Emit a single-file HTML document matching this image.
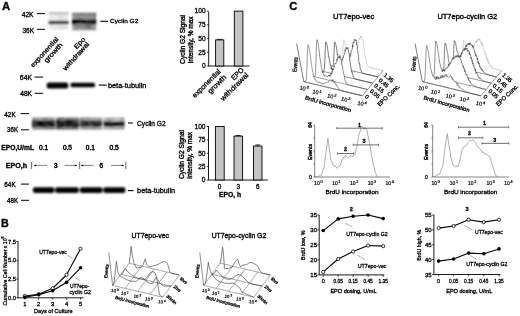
<!DOCTYPE html>
<html><head><meta charset="utf-8"><style>
html,body{margin:0;padding:0;background:#fff;}
svg{display:block;will-change:transform;}
text{font-family:"Liberation Sans",sans-serif;stroke:#000;stroke-width:0.3px;}
</style></head><body>
<svg width="520" height="316" viewBox="0 0 520 316">
<defs>
<filter id="b1" x="-20%" y="-50%" width="140%" height="200%"><feGaussianBlur stdDeviation="0.9"/></filter>
<filter id="b2" x="-20%" y="-50%" width="140%" height="200%"><feGaussianBlur stdDeviation="0.3"/></filter>
<filter id="mot2" x="0" y="0" width="100%" height="100%"><feTurbulence type="fractalNoise" baseFrequency="0.18 0.35" numOctaves="2" seed="11" result="t"/><feColorMatrix in="t" type="matrix" values="0 0 0 0 1  0 0 0 0 1  0 0 0 0 1  2.4 0 0 0 -0.95" result="a"/><feGaussianBlur in="a" stdDeviation="0.9" result="ab"/><feComposite in="ab" in2="SourceGraphic" operator="in"/></filter>
<filter id="mot" x="0" y="0" width="100%" height="100%"><feTurbulence type="fractalNoise" baseFrequency="0.14 0.3" numOctaves="2" seed="3" result="t"/><feColorMatrix in="t" type="matrix" values="0 0 0 0 0  0 0 0 0 0  0 0 0 0 0  2.4 0 0 0 -0.95" result="a"/><feGaussianBlur in="a" stdDeviation="0.9" result="ab"/><feComposite in="ab" in2="SourceGraphic" operator="in"/></filter>
</defs>
<rect width="520" height="316" fill="#fff"/>
<text x="1.90" y="9.54" font-size="11.5" font-weight="bold" textLength="8.20" lengthAdjust="spacingAndGlyphs" fill="#000" >A</text>
<text x="21.70" y="16.80" font-size="6.4" font-weight="normal" textLength="11.90" lengthAdjust="spacingAndGlyphs" fill="#000" >42K</text>
<text x="22.40" y="32.50" font-size="6.4" font-weight="normal" textLength="11.60" lengthAdjust="spacingAndGlyphs" fill="#000" >36K</text>
<line x1="36.90" y1="13.60" x2="45.00" y2="13.60" stroke="#000" stroke-width="1.0" />
<line x1="36.90" y1="29.30" x2="45.00" y2="29.30" stroke="#000" stroke-width="1.0" />
<line x1="100.30" y1="21.30" x2="108.00" y2="21.30" stroke="#000" stroke-width="1.1" />
<text x="110.00" y="23.43" font-size="6.2" font-weight="normal" textLength="28.30" lengthAdjust="spacingAndGlyphs" fill="#000" >Cyclin G2</text>
<g filter="url(#b1)">
<rect x="48.70" y="12.50" width="19.80" height="17.50" fill="#efefef" />
<rect x="48.70" y="12.40" width="19.80" height="1.80" fill="#aaaaaa" />
<rect x="48.70" y="20.90" width="19.80" height="3.20" fill="#000" />
<rect x="72.00" y="12.50" width="24.20" height="18.00" fill="#a8a8a8" />
<rect x="72.00" y="13.00" width="24.20" height="3.00" fill="#8a8a8a" />
<rect x="72.00" y="19.00" width="24.20" height="5.40" fill="#000" />
<rect x="76.00" y="24.00" width="14.00" height="4.00" fill="#888" />
</g>
<rect x="72.50" y="13.00" width="23.50" height="17.00" fill="#000" filter="url(#mot)" opacity="0.35"/>
<rect x="72.50" y="18.50" width="23.50" height="7.00" fill="#fff" filter="url(#mot2)" opacity="0.25"/>
<rect x="49.00" y="13.00" width="19.00" height="16.50" fill="#000" filter="url(#mot)" opacity="0.12"/>
<text transform="translate(58.80,39.50) rotate(-48)" x="0" y="0" font-size="6.6" font-weight="normal" text-anchor="end" textLength="38.00" lengthAdjust="spacingAndGlyphs">exponential</text>
<text transform="translate(62.90,45.20) rotate(-48)" x="0" y="0" font-size="6.6" font-weight="normal" text-anchor="end" textLength="24.00" lengthAdjust="spacingAndGlyphs">growth</text>
<text transform="translate(85.80,39.50) rotate(-48)" x="0" y="0" font-size="6.6" font-weight="normal" text-anchor="end" textLength="13.60" lengthAdjust="spacingAndGlyphs">Epo</text>
<text transform="translate(89.60,44.50) rotate(-48)" x="0" y="0" font-size="6.6" font-weight="normal" text-anchor="end" textLength="35.50" lengthAdjust="spacingAndGlyphs">withdrawal</text>
<text x="19.80" y="80.40" font-size="6.4" font-weight="normal" textLength="12.30" lengthAdjust="spacingAndGlyphs" fill="#000" >64K</text>
<text x="20.20" y="96.40" font-size="6.4" font-weight="normal" textLength="11.90" lengthAdjust="spacingAndGlyphs" fill="#000" >48K</text>
<line x1="34.50" y1="77.10" x2="43.10" y2="77.10" stroke="#000" stroke-width="1.0" />
<line x1="34.50" y1="93.30" x2="43.10" y2="93.30" stroke="#000" stroke-width="1.0" />
<g filter="url(#b1)">
<rect x="46.70" y="82.60" width="21.50" height="6.00" fill="#000" rx="2.2"/>
<rect x="70.40" y="82.80" width="24.70" height="4.50" fill="#000" rx="2"/>
</g>
<line x1="98.70" y1="85.10" x2="106.70" y2="85.10" stroke="#000" stroke-width="1.1" />
<text x="107.90" y="87.52" font-size="7.0" font-weight="normal" textLength="38.60" lengthAdjust="spacingAndGlyphs" fill="#000" >beta-tubulin</text>
<text x="4.30" y="116.90" font-size="6.4" font-weight="normal" textLength="11.40" lengthAdjust="spacingAndGlyphs" fill="#000" >42K</text>
<text x="7.10" y="132.10" font-size="6.4" font-weight="normal" textLength="11.00" lengthAdjust="spacingAndGlyphs" fill="#000" >36K</text>
<line x1="20.50" y1="113.60" x2="29.00" y2="113.60" stroke="#000" stroke-width="1.0" />
<line x1="21.00" y1="129.80" x2="29.00" y2="129.80" stroke="#000" stroke-width="1.0" />
<g filter="url(#b1)">
<rect x="32.20" y="117.30" width="22.80" height="12.60" fill="#a4a4a4" />
<rect x="56.10" y="117.30" width="22.60" height="12.60" fill="#9a9a9a" />
<rect x="79.80" y="117.30" width="22.20" height="12.60" fill="#b0b0b0" />
<rect x="103.50" y="117.30" width="20.90" height="12.60" fill="#c0c0c0" />
<rect x="32.20" y="120.00" width="22.80" height="7.40" fill="#111" />
<rect x="56.10" y="119.50" width="22.60" height="8.60" fill="#0a0a0a" />
<rect x="79.80" y="120.60" width="22.20" height="6.40" fill="#1a1a1a" />
<rect x="103.50" y="121.10" width="20.90" height="5.80" fill="#151515" />
</g>
<rect x="32.50" y="117.50" width="92.00" height="12.00" fill="#000" filter="url(#mot)" opacity="0.3"/>
<rect x="32.50" y="118.50" width="92.00" height="10.00" fill="#fff" filter="url(#mot2)" opacity="0.35"/>
<line x1="128.10" y1="123.00" x2="132.70" y2="123.00" stroke="#000" stroke-width="1.1" />
<text x="137.10" y="125.78" font-size="6.6" font-weight="normal" textLength="28.50" lengthAdjust="spacingAndGlyphs" fill="#000" >Cyclin G2</text>
<text x="1.30" y="150.00" font-size="6.4" font-weight="bold" textLength="32.70" lengthAdjust="spacingAndGlyphs" fill="#000" >EPO,U/mL</text>
<text x="39.10" y="150.00" font-size="6.4" font-weight="normal" textLength="9.20" lengthAdjust="spacingAndGlyphs" fill="#000" style="stroke-width:0.45px">0.1</text>
<text x="62.90" y="150.00" font-size="6.4" font-weight="normal" textLength="9.10" lengthAdjust="spacingAndGlyphs" fill="#000" style="stroke-width:0.45px">0.5</text>
<text x="85.80" y="150.00" font-size="6.4" font-weight="normal" textLength="9.10" lengthAdjust="spacingAndGlyphs" fill="#000" style="stroke-width:0.45px">0.1</text>
<text x="109.50" y="150.00" font-size="6.4" font-weight="normal" textLength="9.20" lengthAdjust="spacingAndGlyphs" fill="#000" style="stroke-width:0.45px">0.5</text>
<text x="5.80" y="168.20" font-size="6.4" font-weight="bold" textLength="21.30" lengthAdjust="spacingAndGlyphs" fill="#000" >EPO,h</text>
<line x1="31.60" y1="161.80" x2="31.60" y2="169.00" stroke="#000" stroke-width="0.6" />
<line x1="79.70" y1="161.80" x2="79.70" y2="169.00" stroke="#000" stroke-width="0.6" />
<line x1="125.80" y1="161.80" x2="125.80" y2="169.00" stroke="#000" stroke-width="0.6" />
<line x1="34.00" y1="165.40" x2="47.00" y2="165.40" stroke="#000" stroke-width="0.5" />
<polygon points="34.00,165.40 36.20,164.40 36.20,166.40" fill="#000"/>
<line x1="64.50" y1="165.40" x2="77.00" y2="165.40" stroke="#000" stroke-width="0.5" />
<polygon points="77.00,165.40 74.80,164.40 74.80,166.40" fill="#000"/>
<line x1="81.00" y1="165.40" x2="93.70" y2="165.40" stroke="#000" stroke-width="0.5" />
<polygon points="81.00,165.40 83.20,164.40 83.20,166.40" fill="#000"/>
<line x1="111.00" y1="165.40" x2="124.00" y2="165.40" stroke="#000" stroke-width="0.5" />
<polygon points="124.00,165.40 121.80,164.40 121.80,166.40" fill="#000"/>
<text x="55.70" y="168.20" font-size="6.4" font-weight="normal" text-anchor="middle" style="stroke-width:0.45px">3</text>
<text x="101.20" y="168.20" font-size="6.4" font-weight="normal" text-anchor="middle" style="stroke-width:0.45px">6</text>
<text x="4.30" y="186.90" font-size="6.4" font-weight="normal" textLength="11.40" lengthAdjust="spacingAndGlyphs" fill="#000" >64K</text>
<text x="7.10" y="202.80" font-size="6.4" font-weight="normal" textLength="11.00" lengthAdjust="spacingAndGlyphs" fill="#000" >48K</text>
<line x1="21.00" y1="184.10" x2="29.00" y2="184.10" stroke="#000" stroke-width="1.0" />
<line x1="21.00" y1="200.30" x2="29.00" y2="200.30" stroke="#000" stroke-width="1.0" />
<g filter="url(#b1)">
<rect x="32.90" y="187.20" width="21.50" height="5.80" fill="#000" rx="2"/>
<rect x="55.20" y="187.20" width="23.60" height="5.80" fill="#000" rx="2"/>
<rect x="79.90" y="187.20" width="22.60" height="5.80" fill="#000" rx="2"/>
<rect x="103.30" y="187.20" width="22.10" height="5.80" fill="#000" rx="2"/>
</g>
<line x1="127.80" y1="190.60" x2="133.60" y2="190.60" stroke="#000" stroke-width="1.1" />
<text x="137.10" y="192.62" font-size="7.0" font-weight="normal" textLength="38.00" lengthAdjust="spacingAndGlyphs" fill="#000" >beta-tubulin</text>
<line x1="208.70" y1="11.80" x2="208.70" y2="66.00" stroke="#000" stroke-width="0.9" />
<line x1="208.30" y1="66.00" x2="249.60" y2="66.00" stroke="#000" stroke-width="0.9" />
<line x1="207.00" y1="66.00" x2="208.70" y2="66.00" stroke="#000" stroke-width="0.8" />
<text x="205.60" y="68.38" font-size="6.6" font-weight="normal" text-anchor="end" >0</text>
<line x1="207.00" y1="52.27" x2="208.70" y2="52.27" stroke="#000" stroke-width="0.8" />
<text x="205.60" y="54.65" font-size="6.6" font-weight="normal" text-anchor="end" >25</text>
<line x1="207.00" y1="38.55" x2="208.70" y2="38.55" stroke="#000" stroke-width="0.8" />
<text x="205.60" y="40.93" font-size="6.6" font-weight="normal" text-anchor="end" >50</text>
<line x1="207.00" y1="24.82" x2="208.70" y2="24.82" stroke="#000" stroke-width="0.8" />
<text x="205.60" y="27.20" font-size="6.6" font-weight="normal" text-anchor="end" >75</text>
<line x1="207.00" y1="11.10" x2="208.70" y2="11.10" stroke="#000" stroke-width="0.8" />
<text x="205.60" y="13.48" font-size="6.6" font-weight="normal" text-anchor="end" >100</text>
<rect x="215.60" y="39.92" width="8.20" height="26.08" fill="#c4c4c4" stroke="#000" stroke-width="0.9"/>
<rect x="234.30" y="11.10" width="8.60" height="54.90" fill="#c4c4c4" stroke="#000" stroke-width="0.9"/>
<line x1="216.80" y1="39.37" x2="222.60" y2="39.37" stroke="#000" stroke-width="0.8" />
<text transform="translate(185.2,39.4) rotate(-90)" text-anchor="middle" font-size="7.0" textLength="49" lengthAdjust="spacingAndGlyphs" style="stroke-width:0.38px">Cyclin G2 Signal</text>
<text transform="translate(193.2,40.0) rotate(-90)" text-anchor="middle" font-size="7.0" textLength="47" lengthAdjust="spacingAndGlyphs" style="stroke-width:0.38px">Intensity, % max</text>
<text transform="translate(221.20,72.00) rotate(-45)" x="0" y="0" font-size="7.2" font-weight="normal" text-anchor="end" textLength="37.00" lengthAdjust="spacingAndGlyphs">exponential</text>
<text transform="translate(226.90,77.60) rotate(-45)" x="0" y="0" font-size="7.2" font-weight="normal" text-anchor="end" textLength="23.20" lengthAdjust="spacingAndGlyphs">growth</text>
<text transform="translate(244.20,70.50) rotate(-45)" x="0" y="0" font-size="7.2" font-weight="normal" text-anchor="end" textLength="14.50" lengthAdjust="spacingAndGlyphs">EPO</text>
<text transform="translate(249.00,75.50) rotate(-45)" x="0" y="0" font-size="7.2" font-weight="normal" text-anchor="end" textLength="36.50" lengthAdjust="spacingAndGlyphs">withdrawal</text>
<line x1="208.50" y1="126.00" x2="208.50" y2="179.80" stroke="#000" stroke-width="0.9" />
<line x1="208.10" y1="180.00" x2="267.80" y2="180.00" stroke="#000" stroke-width="0.9" />
<line x1="206.80" y1="180.00" x2="208.50" y2="180.00" stroke="#000" stroke-width="0.8" />
<text x="205.50" y="182.38" font-size="6.6" font-weight="normal" text-anchor="end" >0</text>
<line x1="206.80" y1="166.62" x2="208.50" y2="166.62" stroke="#000" stroke-width="0.8" />
<text x="205.50" y="169.00" font-size="6.6" font-weight="normal" text-anchor="end" >25</text>
<line x1="206.80" y1="153.25" x2="208.50" y2="153.25" stroke="#000" stroke-width="0.8" />
<text x="205.50" y="155.63" font-size="6.6" font-weight="normal" text-anchor="end" >50</text>
<line x1="206.80" y1="139.88" x2="208.50" y2="139.88" stroke="#000" stroke-width="0.8" />
<text x="205.50" y="142.25" font-size="6.6" font-weight="normal" text-anchor="end" >75</text>
<line x1="206.80" y1="126.50" x2="208.50" y2="126.50" stroke="#000" stroke-width="0.8" />
<text x="205.50" y="128.88" font-size="6.6" font-weight="normal" text-anchor="end" >100</text>
<rect x="215.40" y="126.50" width="8.80" height="53.50" fill="#c4c4c4" stroke="#000" stroke-width="0.9"/>
<rect x="234.00" y="136.13" width="8.60" height="43.87" fill="#c4c4c4" stroke="#000" stroke-width="0.9"/>
<rect x="253.50" y="146.03" width="8.50" height="33.97" fill="#c4c4c4" stroke="#000" stroke-width="0.9"/>
<line x1="235.50" y1="135.49" x2="240.80" y2="135.49" stroke="#000" stroke-width="0.8" />
<line x1="238.10" y1="135.49" x2="238.10" y2="136.13" stroke="#000" stroke-width="0.8" />
<line x1="255.30" y1="144.96" x2="260.30" y2="144.96" stroke="#000" stroke-width="0.8" />
<line x1="257.80" y1="144.96" x2="257.80" y2="146.03" stroke="#000" stroke-width="0.8" />
<text x="219.60" y="188.90" font-size="6.4" font-weight="normal" text-anchor="middle" >0</text>
<text x="238.30" y="188.90" font-size="6.4" font-weight="normal" text-anchor="middle" >3</text>
<text x="257.70" y="188.90" font-size="6.4" font-weight="normal" text-anchor="middle" >6</text>
<text x="218.90" y="197.20" font-size="6.4" font-weight="bold" textLength="22.20" lengthAdjust="spacingAndGlyphs" fill="#000" >EPO, h</text>
<text transform="translate(184.0,154.6) rotate(-90)" text-anchor="middle" font-size="7.0" textLength="49" lengthAdjust="spacingAndGlyphs" style="stroke-width:0.38px">Cyclin G2 Signal</text>
<text transform="translate(192.4,155.4) rotate(-90)" text-anchor="middle" font-size="7.0" textLength="47" lengthAdjust="spacingAndGlyphs" style="stroke-width:0.38px">Intensity, % max</text>
<text x="1.10" y="226.94" font-size="11.5" font-weight="bold" textLength="7.80" lengthAdjust="spacingAndGlyphs" fill="#000" >B</text>
<line x1="18.00" y1="241.30" x2="18.00" y2="297.80" stroke="#000" stroke-width="0.9" />
<line x1="17.60" y1="297.80" x2="83.50" y2="297.80" stroke="#000" stroke-width="0.9" />
<line x1="16.40" y1="297.80" x2="18.20" y2="297.80" stroke="#000" stroke-width="0.8" />
<text x="16.00" y="299.89" font-size="5.8" font-weight="normal" text-anchor="end" >0.0</text>
<line x1="16.40" y1="279.03" x2="18.20" y2="279.03" stroke="#000" stroke-width="0.8" />
<text x="16.00" y="281.12" font-size="5.8" font-weight="normal" text-anchor="end" >2.5</text>
<line x1="16.40" y1="260.27" x2="18.20" y2="260.27" stroke="#000" stroke-width="0.8" />
<text x="16.00" y="262.35" font-size="5.8" font-weight="normal" text-anchor="end" >5.0</text>
<line x1="16.40" y1="241.50" x2="18.20" y2="241.50" stroke="#000" stroke-width="0.8" />
<text x="16.00" y="243.59" font-size="5.8" font-weight="normal" text-anchor="end" >7.5</text>
<line x1="24.80" y1="297.80" x2="24.80" y2="299.50" stroke="#000" stroke-width="0.8" />
<text x="24.80" y="305.79" font-size="5.8" font-weight="normal" text-anchor="middle" >1</text>
<line x1="38.73" y1="297.80" x2="38.73" y2="299.50" stroke="#000" stroke-width="0.8" />
<text x="38.73" y="305.79" font-size="5.8" font-weight="normal" text-anchor="middle" >2</text>
<line x1="52.66" y1="297.80" x2="52.66" y2="299.50" stroke="#000" stroke-width="0.8" />
<text x="52.66" y="305.79" font-size="5.8" font-weight="normal" text-anchor="middle" >3</text>
<line x1="66.59" y1="297.80" x2="66.59" y2="299.50" stroke="#000" stroke-width="0.8" />
<text x="66.59" y="305.79" font-size="5.8" font-weight="normal" text-anchor="middle" >4</text>
<line x1="80.52" y1="297.80" x2="80.52" y2="299.50" stroke="#000" stroke-width="0.8" />
<text x="80.52" y="305.79" font-size="5.8" font-weight="normal" text-anchor="middle" >5</text>
<text x="34.10" y="313.16" font-size="6.0" font-weight="normal" textLength="38.40" lengthAdjust="spacingAndGlyphs" fill="#000" >Days of Culture</text>
<text transform="translate(6.6,270.9) rotate(-90)" text-anchor="middle" font-size="6.0" textLength="69" lengthAdjust="spacingAndGlyphs">Cumulative Cell Number x 10<tspan dy="-2.2" font-size="4.2">6</tspan></text>
<polyline points="24.80,296.00 38.73,294.20 52.66,288.27 66.59,274.75 80.52,248.71" fill="none" stroke="#000" stroke-width="1.1" stroke-linejoin="round" />
<polyline points="24.80,297.27 38.73,294.65 52.66,290.82 66.59,282.34 80.52,267.77" fill="none" stroke="#000" stroke-width="1.1" stroke-linejoin="round" />
<circle cx="24.80" cy="296.00" r="1.6" fill="#fff" stroke="#000" stroke-width="0.8"/>
<circle cx="38.73" cy="294.20" r="1.6" fill="#fff" stroke="#000" stroke-width="0.8"/>
<circle cx="52.66" cy="288.27" r="1.6" fill="#fff" stroke="#000" stroke-width="0.8"/>
<circle cx="66.59" cy="274.75" r="1.6" fill="#fff" stroke="#000" stroke-width="0.8"/>
<circle cx="80.52" cy="248.71" r="1.6" fill="#fff" stroke="#000" stroke-width="0.8"/>
<circle cx="24.80" cy="297.27" r="1.8" fill="#000"/>
<circle cx="38.73" cy="294.65" r="1.8" fill="#000"/>
<circle cx="52.66" cy="290.82" r="1.8" fill="#000"/>
<circle cx="66.59" cy="282.34" r="1.8" fill="#000"/>
<circle cx="80.52" cy="267.77" r="1.8" fill="#000"/>
<text x="39.20" y="254.19" font-size="5.8" font-weight="normal" textLength="27.70" lengthAdjust="spacingAndGlyphs" fill="#000" >UT7epo-vec</text>
<line x1="67.40" y1="255.00" x2="72.60" y2="258.40" stroke="#777" stroke-width="0.6" />
<text x="69.90" y="287.99" font-size="5.8" font-weight="normal" textLength="19.30" lengthAdjust="spacingAndGlyphs" fill="#000" >UT7epo-</text>
<text x="69.50" y="294.19" font-size="5.8" font-weight="normal" textLength="21.40" lengthAdjust="spacingAndGlyphs" fill="#000" >cyclin G2</text>
<line x1="75.20" y1="277.80" x2="80.20" y2="280.60" stroke="#777" stroke-width="0.6" />
<text x="131.50" y="237.59" font-size="7.2" font-weight="normal" textLength="37.50" lengthAdjust="spacingAndGlyphs" fill="#000" style="stroke-width:0.35px">UT7epo-vec</text>
<line x1="112.60" y1="285.40" x2="162.70" y2="297.20" stroke="#555" stroke-width="0.5" />
<line x1="120.90" y1="274.30" x2="171.00" y2="286.10" stroke="#555" stroke-width="0.5" />
<line x1="129.20" y1="263.20" x2="179.30" y2="275.00" stroke="#555" stroke-width="0.5" />
<line x1="112.60" y1="285.40" x2="129.20" y2="263.20" stroke="#555" stroke-width="0.5" />
<line x1="125.12" y1="288.35" x2="141.72" y2="266.15" stroke="#555" stroke-width="0.5" />
<line x1="137.65" y1="291.30" x2="154.25" y2="269.10" stroke="#555" stroke-width="0.5" />
<line x1="150.17" y1="294.25" x2="166.77" y2="272.05" stroke="#555" stroke-width="0.5" />
<line x1="162.70" y1="297.20" x2="179.30" y2="275.00" stroke="#555" stroke-width="0.5" />
<line x1="112.60" y1="285.40" x2="108.80" y2="252.40" stroke="#444" stroke-width="0.6" />
<text transform="translate(108.00,271.40) rotate(-84)" font-size="4.4" text-anchor="middle" textLength="14" lengthAdjust="spacingAndGlyphs">Events</text>
<polyline points="129.20,263.20 130.20,256.00 131.10,246.30 132.40,256.00 134.20,263.70 136.60,268.00 140.00,267.50 143.00,265.00 145.30,258.70 146.50,264.50 149.00,266.60 152.40,266.10 156.00,265.00 158.00,264.50 161.90,262.10 164.30,261.30 166.00,262.00 167.50,263.70 169.80,271.60 171.40,273.20 179.30,275.00" fill="none" stroke="#333" stroke-width="0.6" stroke-linejoin="round" />
<polyline points="120.90,274.30 122.50,273.50 124.00,270.50 125.50,268.50 127.00,271.00 130.00,273.80 134.00,276.50 138.00,278.30 141.00,279.00 145.00,279.50 148.00,276.00 150.50,272.50 153.00,271.50 155.00,273.00 157.00,278.50 159.00,282.00 163.00,286.00 171.00,286.10" fill="none" stroke="#333" stroke-width="0.6" stroke-linejoin="round" />
<polyline points="112.60,285.40 114.00,283.00 115.50,270.00 116.40,261.30 117.40,268.00 117.80,272.00 119.20,275.20 121.00,276.50 126.00,279.50 131.00,281.20 136.00,281.40 139.00,279.00 141.00,277.00 143.00,278.20 148.00,282.50 152.00,284.00 155.00,279.00 156.00,277.50 157.00,280.00 158.50,289.00 159.50,295.00 162.70,297.20" fill="none" stroke="#333" stroke-width="0.6" stroke-linejoin="round" />
<text transform="translate(111.00,291.80) rotate(8)" font-size="4.4" style="stroke-width:0.2px">10<tspan dx="0.66" dy="-1.85" font-size="3.30">0</tspan></text>
<text transform="translate(121.00,294.60) rotate(8)" font-size="4.4" style="stroke-width:0.2px">10<tspan dx="0.66" dy="-1.85" font-size="3.30">1</tspan></text>
<text transform="translate(133.40,297.40) rotate(8)" font-size="4.4" style="stroke-width:0.2px">10<tspan dx="0.66" dy="-1.85" font-size="3.30">2</tspan></text>
<text transform="translate(145.00,300.20) rotate(8)" font-size="4.4" style="stroke-width:0.2px">10<tspan dx="0.66" dy="-1.85" font-size="3.30">3</tspan></text>
<text transform="translate(158.00,303.00) rotate(8)" font-size="4.4" style="stroke-width:0.2px">10<tspan dx="0.66" dy="-1.85" font-size="3.30">4</tspan></text>
<text transform="translate(115.00,298.80) rotate(15)" font-size="4.4" textLength="35" lengthAdjust="spacingAndGlyphs">BrdU incorporation</text>
<text transform="translate(179.60,279.20) rotate(40)" font-size="4.4" textLength="8.0" lengthAdjust="spacingAndGlyphs">8hrs</text>
<text transform="translate(173.30,287.20) rotate(40)" font-size="4.4" textLength="8.0" lengthAdjust="spacingAndGlyphs">2hrs</text>
<text transform="translate(166.00,296.80) rotate(40)" font-size="4.4" textLength="12.0" lengthAdjust="spacingAndGlyphs">30min</text>
<text x="211.70" y="237.69" font-size="7.2" font-weight="normal" textLength="54.50" lengthAdjust="spacingAndGlyphs" fill="#000" style="stroke-width:0.35px">UT7epo-cyclin G2</text>
<line x1="203.60" y1="285.40" x2="253.70" y2="297.20" stroke="#555" stroke-width="0.5" />
<line x1="211.90" y1="274.30" x2="262.00" y2="286.10" stroke="#555" stroke-width="0.5" />
<line x1="220.20" y1="263.20" x2="270.30" y2="275.00" stroke="#555" stroke-width="0.5" />
<line x1="203.60" y1="285.40" x2="220.20" y2="263.20" stroke="#555" stroke-width="0.5" />
<line x1="216.12" y1="288.35" x2="232.72" y2="266.15" stroke="#555" stroke-width="0.5" />
<line x1="228.65" y1="291.30" x2="245.25" y2="269.10" stroke="#555" stroke-width="0.5" />
<line x1="241.17" y1="294.25" x2="257.77" y2="272.05" stroke="#555" stroke-width="0.5" />
<line x1="253.70" y1="297.20" x2="270.30" y2="275.00" stroke="#555" stroke-width="0.5" />
<line x1="203.60" y1="285.40" x2="199.80" y2="252.40" stroke="#444" stroke-width="0.6" />
<text transform="translate(199.00,271.40) rotate(-84)" font-size="4.4" text-anchor="middle" textLength="14" lengthAdjust="spacingAndGlyphs">Events</text>
<polyline points="220.20,263.20 221.60,255.00 222.60,247.20 223.60,255.00 224.50,268.50 228.00,268.50 232.00,267.00 235.00,262.00 237.80,259.00 239.00,264.00 240.50,266.60 243.00,265.00 246.30,264.70 250.00,262.40 253.00,263.00 257.70,265.70 259.60,270.40 262.40,273.20 270.30,275.00" fill="none" stroke="#333" stroke-width="0.6" stroke-linejoin="round" />
<polyline points="211.90,274.30 213.50,273.80 215.00,272.50 216.50,270.00 218.00,272.00 221.00,275.50 225.00,278.50 229.00,279.50 233.00,278.00 236.00,275.50 239.00,274.50 242.00,276.00 245.00,279.00 248.00,282.00 251.00,284.00 262.00,286.10" fill="none" stroke="#333" stroke-width="0.6" stroke-linejoin="round" />
<polyline points="203.60,285.40 205.50,283.00 207.20,272.00 208.30,262.20 209.30,268.00 210.60,271.30 212.00,274.00 215.00,278.50 219.00,281.50 224.00,283.00 229.00,283.50 233.00,283.00 236.00,284.50 240.00,288.50 242.00,292.00 253.70,297.20" fill="none" stroke="#333" stroke-width="0.6" stroke-linejoin="round" />
<text transform="translate(202.00,291.80) rotate(8)" font-size="4.4" style="stroke-width:0.2px">10<tspan dx="0.66" dy="-1.85" font-size="3.30">0</tspan></text>
<text transform="translate(212.00,294.60) rotate(8)" font-size="4.4" style="stroke-width:0.2px">10<tspan dx="0.66" dy="-1.85" font-size="3.30">1</tspan></text>
<text transform="translate(224.40,297.40) rotate(8)" font-size="4.4" style="stroke-width:0.2px">10<tspan dx="0.66" dy="-1.85" font-size="3.30">2</tspan></text>
<text transform="translate(236.00,300.20) rotate(8)" font-size="4.4" style="stroke-width:0.2px">10<tspan dx="0.66" dy="-1.85" font-size="3.30">3</tspan></text>
<text transform="translate(249.00,303.00) rotate(8)" font-size="4.4" style="stroke-width:0.2px">10<tspan dx="0.66" dy="-1.85" font-size="3.30">4</tspan></text>
<text transform="translate(206.00,298.80) rotate(15)" font-size="4.4" textLength="35" lengthAdjust="spacingAndGlyphs">BrdU incorporation</text>
<text transform="translate(270.60,279.20) rotate(40)" font-size="4.4" textLength="8.0" lengthAdjust="spacingAndGlyphs">8hrs</text>
<text transform="translate(264.30,287.20) rotate(40)" font-size="4.4" textLength="8.0" lengthAdjust="spacingAndGlyphs">2hrs</text>
<text transform="translate(257.00,296.80) rotate(40)" font-size="4.4" textLength="12.0" lengthAdjust="spacingAndGlyphs">30min</text>
<text x="289.30" y="9.86" font-size="11.0" font-weight="bold" textLength="8.10" lengthAdjust="spacingAndGlyphs" fill="#000" >C</text>
<text x="333.00" y="19.34" font-size="7.2" font-weight="normal" textLength="41.40" lengthAdjust="spacingAndGlyphs" fill="#000" style="stroke-width:0.35px">UT7epo-vec</text>
<text x="437.40" y="19.49" font-size="7.2" font-weight="normal" textLength="59.90" lengthAdjust="spacingAndGlyphs" fill="#000" style="stroke-width:0.35px">UT7epo-cyclin G2</text>
<polygon points="340.60,60.67 340.85,60.70 341.10,60.73 341.35,60.75 341.60,60.76 341.85,60.71 342.10,60.46 342.35,59.61 342.60,57.40 342.86,53.12 343.11,47.13 343.36,41.66 343.61,39.68 343.86,39.81 344.11,40.21 344.36,40.88 344.61,41.77 344.86,42.85 345.11,44.09 345.36,45.42 345.61,46.82 345.86,49.41 346.11,48.51 346.36,50.11 346.61,52.99 346.86,53.36 347.12,54.53 347.37,54.79 347.62,55.13 347.87,57.96 348.12,58.59 348.37,56.85 348.62,58.25 348.87,57.78 349.12,59.71 349.37,58.90 349.62,58.45 349.87,59.57 350.12,58.12 350.37,58.22 350.62,60.08 350.87,60.08 351.12,58.89 351.38,57.87 351.63,59.08 351.88,59.37 352.13,58.70 352.38,59.61 352.63,58.89 352.88,58.00 353.13,57.51 353.38,58.00 353.63,57.62 353.88,57.23 354.13,55.97 354.38,55.99 354.63,56.27 354.88,53.04 355.13,53.27 355.38,52.29 355.64,53.00 355.89,49.62 356.14,49.22 356.39,50.73 356.64,49.17 356.89,47.02 357.14,46.14 357.39,44.50 357.64,45.22 357.89,43.00 358.14,42.62 358.39,42.92 358.64,41.17 358.89,39.43 359.14,38.80 359.39,39.20 359.64,38.31 359.90,39.53 360.15,38.39 360.40,36.23 360.65,37.15 360.90,37.71 361.15,36.40 361.40,35.89 361.65,36.11 361.90,37.47 362.15,37.92 362.40,38.61 362.65,38.88 362.90,41.04 363.15,42.94 363.40,44.26 363.65,47.44 363.90,49.16 364.16,48.83 364.41,49.70 364.66,52.67 364.91,54.96 365.16,57.24 365.41,57.63 365.66,57.43 365.91,59.32 366.16,61.16 366.41,61.38 366.66,63.62 366.91,63.81 367.16,63.88 367.41,64.94 367.66,65.51 367.91,66.02 368.16,66.17 368.42,66.30 368.67,66.85 368.92,66.83 369.17,67.01 369.42,67.15 369.67,67.30 369.92,67.40 370.17,67.51 370.42,67.59 370.67,67.67 370.92,67.75 371.17,67.81 371.42,67.88 371.67,67.94 371.92,68.00 372.17,68.06 372.42,68.12 372.68,68.18 372.93,68.24 373.18,68.29 373.43,68.35 373.68,68.41 373.93,68.47 374.18,68.52 374.43,68.58 374.68,68.64 374.93,68.70 375.18,68.76 375.43,68.81 375.68,68.87 375.93,68.93 376.18,68.99 376.43,69.04 376.68,69.10 376.94,69.16 377.19,69.22 377.44,69.27 377.69,69.33 377.94,69.39 378.19,69.45 378.44,69.50 378.69,69.56 378.94,69.62 379.19,69.68 379.44,69.74 379.69,69.79 379.94,69.85 380.19,69.91 380.44,69.97 380.69,70.02 380.94,70.08 381.20,70.14 381.45,70.20 381.70,70.25 381.95,70.31 382.20,70.37 382.45,70.43 382.70,70.48 382.95,70.54 383.20,70.60 383.20,70.60 340.60,60.80" fill="#fff" stroke="none"/>
<polyline points="340.60,60.67 340.85,60.70 341.10,60.73 341.35,60.75 341.60,60.76 341.85,60.71 342.10,60.46 342.35,59.61 342.60,57.40 342.86,53.12 343.11,47.13 343.36,41.66 343.61,39.68 343.86,39.81 344.11,40.21 344.36,40.88 344.61,41.77 344.86,42.85 345.11,44.09 345.36,45.42 345.61,46.82 345.86,49.41 346.11,48.51 346.36,50.11 346.61,52.99 346.86,53.36 347.12,54.53 347.37,54.79 347.62,55.13 347.87,57.96 348.12,58.59 348.37,56.85 348.62,58.25 348.87,57.78 349.12,59.71 349.37,58.90 349.62,58.45 349.87,59.57 350.12,58.12 350.37,58.22 350.62,60.08 350.87,60.08 351.12,58.89 351.38,57.87 351.63,59.08 351.88,59.37 352.13,58.70 352.38,59.61 352.63,58.89 352.88,58.00 353.13,57.51 353.38,58.00 353.63,57.62 353.88,57.23 354.13,55.97 354.38,55.99 354.63,56.27 354.88,53.04 355.13,53.27 355.38,52.29 355.64,53.00 355.89,49.62 356.14,49.22 356.39,50.73 356.64,49.17 356.89,47.02 357.14,46.14 357.39,44.50 357.64,45.22 357.89,43.00 358.14,42.62 358.39,42.92 358.64,41.17 358.89,39.43 359.14,38.80 359.39,39.20 359.64,38.31 359.90,39.53 360.15,38.39 360.40,36.23 360.65,37.15 360.90,37.71 361.15,36.40 361.40,35.89 361.65,36.11 361.90,37.47 362.15,37.92 362.40,38.61 362.65,38.88 362.90,41.04 363.15,42.94 363.40,44.26 363.65,47.44 363.90,49.16 364.16,48.83 364.41,49.70 364.66,52.67 364.91,54.96 365.16,57.24 365.41,57.63 365.66,57.43 365.91,59.32 366.16,61.16 366.41,61.38 366.66,63.62 366.91,63.81 367.16,63.88 367.41,64.94 367.66,65.51 367.91,66.02 368.16,66.17 368.42,66.30 368.67,66.85 368.92,66.83 369.17,67.01 369.42,67.15 369.67,67.30 369.92,67.40 370.17,67.51 370.42,67.59 370.67,67.67 370.92,67.75 371.17,67.81 371.42,67.88 371.67,67.94 371.92,68.00 372.17,68.06 372.42,68.12 372.68,68.18 372.93,68.24 373.18,68.29 373.43,68.35 373.68,68.41 373.93,68.47 374.18,68.52 374.43,68.58 374.68,68.64 374.93,68.70 375.18,68.76 375.43,68.81 375.68,68.87 375.93,68.93 376.18,68.99 376.43,69.04 376.68,69.10 376.94,69.16 377.19,69.22 377.44,69.27 377.69,69.33 377.94,69.39 378.19,69.45 378.44,69.50 378.69,69.56 378.94,69.62 379.19,69.68 379.44,69.74 379.69,69.79 379.94,69.85 380.19,69.91 380.44,69.97 380.69,70.02 380.94,70.08 381.20,70.14 381.45,70.20 381.70,70.25 381.95,70.31 382.20,70.37 382.45,70.43 382.70,70.48 382.95,70.54 383.20,70.60" fill="none" stroke="#bbb" stroke-width="0.6" stroke-linejoin="round" />
<line x1="340.60" y1="60.80" x2="383.20" y2="70.60" stroke="#bbb" stroke-width="0.5" stroke-dasharray="1,1"/>
<polygon points="331.40,65.87 331.67,65.91 331.95,65.94 332.22,65.97 332.50,65.98 332.77,65.93 333.04,65.66 333.32,64.69 333.59,62.17 333.87,57.29 334.14,50.45 334.42,44.21 334.69,41.96 334.96,42.12 335.24,42.60 335.51,43.38 335.79,44.41 336.06,45.67 336.33,47.10 336.61,48.65 336.88,50.27 337.16,53.46 337.43,55.08 337.70,54.26 337.98,57.33 338.25,59.12 338.53,58.67 338.80,60.64 339.08,62.45 339.35,62.95 339.62,62.46 339.90,63.97 340.17,64.12 340.45,63.51 340.72,64.40 340.99,64.93 341.27,64.86 341.54,65.86 341.82,65.36 342.09,65.44 342.36,65.95 342.64,66.19 342.91,64.99 343.19,65.71 343.46,66.27 343.74,65.70 344.01,65.40 344.28,66.73 344.56,66.76 344.83,66.55 345.11,65.52 345.38,66.46 345.65,65.34 345.93,65.23 346.20,65.31 346.48,65.82 346.75,63.70 347.02,63.75 347.30,64.12 347.57,64.60 347.85,62.73 348.12,62.96 348.40,61.74 348.67,61.84 348.94,60.08 349.22,61.07 349.49,59.41 349.77,56.31 350.04,55.60 350.31,56.36 350.59,53.50 350.86,54.12 351.14,50.95 351.41,50.40 351.68,50.28 351.96,49.63 352.23,49.26 352.51,45.36 352.78,46.98 353.06,43.46 353.33,42.05 353.60,42.44 353.88,42.93 354.15,40.03 354.43,39.13 354.70,39.54 354.97,39.85 355.25,40.08 355.52,40.12 355.80,40.71 356.07,39.76 356.34,41.50 356.62,43.61 356.89,45.58 357.17,45.73 357.44,49.07 357.72,50.70 357.99,53.59 358.26,54.18 358.54,56.36 358.81,61.34 359.09,62.77 359.36,64.19 359.63,63.72 359.91,65.83 360.18,68.39 360.46,69.62 360.73,69.67 361.00,70.28 361.28,70.90 361.55,71.89 361.83,71.99 362.10,72.44 362.38,72.76 362.65,72.88 362.92,73.17 363.20,73.25 363.47,73.42 363.75,73.50 364.02,73.57 364.29,73.67 364.57,73.73 364.84,73.81 365.12,73.88 365.39,73.95 365.66,74.01 365.94,74.08 366.21,74.14 366.49,74.21 366.76,74.27 367.04,74.34 367.31,74.40 367.58,74.46 367.86,74.53 368.13,74.59 368.41,74.66 368.68,74.72 368.95,74.78 369.23,74.85 369.50,74.91 369.78,74.98 370.05,75.04 370.32,75.10 370.60,75.17 370.87,75.23 371.15,75.30 371.42,75.36 371.70,75.43 371.97,75.49 372.24,75.55 372.52,75.62 372.79,75.68 373.07,75.75 373.34,75.81 373.61,75.87 373.89,75.94 374.16,76.00 374.44,76.07 374.71,76.13 374.98,76.19 375.26,76.26 375.53,76.32 375.81,76.39 376.08,76.45 376.36,76.52 376.63,76.58 376.90,76.64 377.18,76.71 377.45,76.77 377.73,76.84 378.00,76.90 378.00,76.90 331.40,66.00" fill="#fff" stroke="none"/>
<polyline points="331.40,65.87 331.67,65.91 331.95,65.94 332.22,65.97 332.50,65.98 332.77,65.93 333.04,65.66 333.32,64.69 333.59,62.17 333.87,57.29 334.14,50.45 334.42,44.21 334.69,41.96 334.96,42.12 335.24,42.60 335.51,43.38 335.79,44.41 336.06,45.67 336.33,47.10 336.61,48.65 336.88,50.27 337.16,53.46 337.43,55.08 337.70,54.26 337.98,57.33 338.25,59.12 338.53,58.67 338.80,60.64 339.08,62.45 339.35,62.95 339.62,62.46 339.90,63.97 340.17,64.12 340.45,63.51 340.72,64.40 340.99,64.93 341.27,64.86 341.54,65.86 341.82,65.36 342.09,65.44 342.36,65.95 342.64,66.19 342.91,64.99 343.19,65.71 343.46,66.27 343.74,65.70 344.01,65.40 344.28,66.73 344.56,66.76 344.83,66.55 345.11,65.52 345.38,66.46 345.65,65.34 345.93,65.23 346.20,65.31 346.48,65.82 346.75,63.70 347.02,63.75 347.30,64.12 347.57,64.60 347.85,62.73 348.12,62.96 348.40,61.74 348.67,61.84 348.94,60.08 349.22,61.07 349.49,59.41 349.77,56.31 350.04,55.60 350.31,56.36 350.59,53.50 350.86,54.12 351.14,50.95 351.41,50.40 351.68,50.28 351.96,49.63 352.23,49.26 352.51,45.36 352.78,46.98 353.06,43.46 353.33,42.05 353.60,42.44 353.88,42.93 354.15,40.03 354.43,39.13 354.70,39.54 354.97,39.85 355.25,40.08 355.52,40.12 355.80,40.71 356.07,39.76 356.34,41.50 356.62,43.61 356.89,45.58 357.17,45.73 357.44,49.07 357.72,50.70 357.99,53.59 358.26,54.18 358.54,56.36 358.81,61.34 359.09,62.77 359.36,64.19 359.63,63.72 359.91,65.83 360.18,68.39 360.46,69.62 360.73,69.67 361.00,70.28 361.28,70.90 361.55,71.89 361.83,71.99 362.10,72.44 362.38,72.76 362.65,72.88 362.92,73.17 363.20,73.25 363.47,73.42 363.75,73.50 364.02,73.57 364.29,73.67 364.57,73.73 364.84,73.81 365.12,73.88 365.39,73.95 365.66,74.01 365.94,74.08 366.21,74.14 366.49,74.21 366.76,74.27 367.04,74.34 367.31,74.40 367.58,74.46 367.86,74.53 368.13,74.59 368.41,74.66 368.68,74.72 368.95,74.78 369.23,74.85 369.50,74.91 369.78,74.98 370.05,75.04 370.32,75.10 370.60,75.17 370.87,75.23 371.15,75.30 371.42,75.36 371.70,75.43 371.97,75.49 372.24,75.55 372.52,75.62 372.79,75.68 373.07,75.75 373.34,75.81 373.61,75.87 373.89,75.94 374.16,76.00 374.44,76.07 374.71,76.13 374.98,76.19 375.26,76.26 375.53,76.32 375.81,76.39 376.08,76.45 376.36,76.52 376.63,76.58 376.90,76.64 377.18,76.71 377.45,76.77 377.73,76.84 378.00,76.90" fill="none" stroke="#222" stroke-width="0.6" stroke-linejoin="round" />
<line x1="331.40" y1="66.00" x2="378.00" y2="76.90" stroke="#222" stroke-width="0.5" />
<polygon points="322.20,71.07 322.50,71.11 322.80,71.15 323.09,71.19 323.39,71.20 323.69,71.15 323.99,70.82 324.28,69.64 324.58,66.57 324.88,60.61 325.18,52.28 325.47,44.68 325.77,41.94 326.07,42.15 326.37,42.75 326.66,43.71 326.96,45.00 327.26,46.55 327.56,48.32 327.86,50.23 328.15,52.24 328.45,55.60 328.75,57.00 329.05,56.91 329.34,59.75 329.64,60.25 329.94,63.23 330.24,65.12 330.53,64.63 330.83,65.49 331.13,68.91 331.43,67.57 331.72,69.68 332.02,70.01 332.32,68.65 332.62,70.75 332.92,70.57 333.21,69.35 333.51,70.59 333.81,71.27 334.11,71.29 334.40,71.25 334.70,70.44 335.00,71.62 335.30,70.23 335.59,71.20 335.89,70.10 336.19,70.17 336.49,71.30 336.78,71.31 337.08,70.73 337.38,71.44 337.68,69.96 337.98,71.27 338.27,71.15 338.57,67.99 338.87,69.70 339.17,68.28 339.46,68.24 339.76,68.10 340.06,68.27 340.36,64.86 340.65,63.93 340.95,63.13 341.25,65.02 341.55,63.79 341.84,61.56 342.14,59.42 342.44,59.81 342.74,58.32 343.04,57.37 343.33,57.62 343.63,55.69 343.93,55.43 344.23,54.65 344.52,54.25 344.82,52.73 345.12,49.67 345.42,50.65 345.71,49.35 346.01,48.82 346.31,47.42 346.61,48.84 346.90,48.88 347.20,48.70 347.50,48.75 347.80,47.33 348.10,47.85 348.39,50.77 348.69,52.04 348.99,53.01 349.29,54.76 349.58,56.72 349.88,59.95 350.18,62.81 350.48,64.21 350.77,66.79 351.07,67.17 351.37,70.48 351.67,72.08 351.96,71.71 352.26,73.95 352.56,73.86 352.86,75.40 353.16,75.69 353.45,77.13 353.75,77.31 354.05,77.57 354.35,78.25 354.64,78.23 354.94,78.65 355.24,78.73 355.54,78.87 355.83,79.03 356.13,79.17 356.43,79.27 356.73,79.35 357.02,79.43 357.32,79.52 357.62,79.59 357.92,79.67 358.22,79.74 358.51,79.81 358.81,79.88 359.11,79.95 359.41,80.02 359.70,80.09 360.00,80.16 360.30,80.24 360.60,80.31 360.89,80.38 361.19,80.45 361.49,80.52 361.79,80.59 362.08,80.66 362.38,80.73 362.68,80.80 362.98,80.87 363.28,80.94 363.57,81.01 363.87,81.08 364.17,81.15 364.47,81.22 364.76,81.29 365.06,81.36 365.36,81.44 365.66,81.51 365.95,81.58 366.25,81.65 366.55,81.72 366.85,81.79 367.14,81.86 367.44,81.93 367.74,82.00 368.04,82.07 368.34,82.14 368.63,82.21 368.93,82.28 369.23,82.35 369.53,82.42 369.82,82.49 370.12,82.56 370.42,82.64 370.72,82.71 371.01,82.78 371.31,82.85 371.61,82.92 371.91,82.99 372.20,83.06 372.50,83.13 372.80,83.20 372.80,83.20 322.20,71.20" fill="#fff" stroke="none"/>
<polyline points="322.20,71.07 322.50,71.11 322.80,71.15 323.09,71.19 323.39,71.20 323.69,71.15 323.99,70.82 324.28,69.64 324.58,66.57 324.88,60.61 325.18,52.28 325.47,44.68 325.77,41.94 326.07,42.15 326.37,42.75 326.66,43.71 326.96,45.00 327.26,46.55 327.56,48.32 327.86,50.23 328.15,52.24 328.45,55.60 328.75,57.00 329.05,56.91 329.34,59.75 329.64,60.25 329.94,63.23 330.24,65.12 330.53,64.63 330.83,65.49 331.13,68.91 331.43,67.57 331.72,69.68 332.02,70.01 332.32,68.65 332.62,70.75 332.92,70.57 333.21,69.35 333.51,70.59 333.81,71.27 334.11,71.29 334.40,71.25 334.70,70.44 335.00,71.62 335.30,70.23 335.59,71.20 335.89,70.10 336.19,70.17 336.49,71.30 336.78,71.31 337.08,70.73 337.38,71.44 337.68,69.96 337.98,71.27 338.27,71.15 338.57,67.99 338.87,69.70 339.17,68.28 339.46,68.24 339.76,68.10 340.06,68.27 340.36,64.86 340.65,63.93 340.95,63.13 341.25,65.02 341.55,63.79 341.84,61.56 342.14,59.42 342.44,59.81 342.74,58.32 343.04,57.37 343.33,57.62 343.63,55.69 343.93,55.43 344.23,54.65 344.52,54.25 344.82,52.73 345.12,49.67 345.42,50.65 345.71,49.35 346.01,48.82 346.31,47.42 346.61,48.84 346.90,48.88 347.20,48.70 347.50,48.75 347.80,47.33 348.10,47.85 348.39,50.77 348.69,52.04 348.99,53.01 349.29,54.76 349.58,56.72 349.88,59.95 350.18,62.81 350.48,64.21 350.77,66.79 351.07,67.17 351.37,70.48 351.67,72.08 351.96,71.71 352.26,73.95 352.56,73.86 352.86,75.40 353.16,75.69 353.45,77.13 353.75,77.31 354.05,77.57 354.35,78.25 354.64,78.23 354.94,78.65 355.24,78.73 355.54,78.87 355.83,79.03 356.13,79.17 356.43,79.27 356.73,79.35 357.02,79.43 357.32,79.52 357.62,79.59 357.92,79.67 358.22,79.74 358.51,79.81 358.81,79.88 359.11,79.95 359.41,80.02 359.70,80.09 360.00,80.16 360.30,80.24 360.60,80.31 360.89,80.38 361.19,80.45 361.49,80.52 361.79,80.59 362.08,80.66 362.38,80.73 362.68,80.80 362.98,80.87 363.28,80.94 363.57,81.01 363.87,81.08 364.17,81.15 364.47,81.22 364.76,81.29 365.06,81.36 365.36,81.44 365.66,81.51 365.95,81.58 366.25,81.65 366.55,81.72 366.85,81.79 367.14,81.86 367.44,81.93 367.74,82.00 368.04,82.07 368.34,82.14 368.63,82.21 368.93,82.28 369.23,82.35 369.53,82.42 369.82,82.49 370.12,82.56 370.42,82.64 370.72,82.71 371.01,82.78 371.31,82.85 371.61,82.92 371.91,82.99 372.20,83.06 372.50,83.13 372.80,83.20" fill="none" stroke="#222" stroke-width="0.6" stroke-linejoin="round" />
<line x1="322.20" y1="71.20" x2="372.80" y2="83.20" stroke="#222" stroke-width="0.5" />
<polygon points="313.00,76.27 313.32,76.32 313.64,76.37 313.96,76.41 314.28,76.42 314.61,76.36 314.93,75.94 315.25,74.46 315.57,70.60 315.89,63.11 316.21,52.62 316.53,43.05 316.85,39.62 317.18,39.90 317.50,40.67 317.82,41.90 318.14,43.53 318.46,45.51 318.78,47.76 319.10,50.19 319.42,52.74 319.74,56.08 320.07,59.36 320.39,59.80 320.71,62.82 321.03,64.42 321.35,67.94 321.67,68.67 321.99,70.82 322.31,72.11 322.64,72.73 322.96,71.78 323.28,73.84 323.60,74.39 323.92,74.36 324.24,75.59 324.56,76.33 324.88,75.50 325.20,75.75 325.53,75.63 325.85,76.15 326.17,75.79 326.49,75.78 326.81,76.73 327.13,76.29 327.45,76.32 327.77,76.80 328.10,76.39 328.42,76.01 328.74,75.13 329.06,74.92 329.38,76.26 329.70,75.10 330.02,76.49 330.34,76.20 330.66,74.50 330.99,72.92 331.31,74.75 331.63,72.29 331.95,71.34 332.27,72.54 332.59,70.65 332.91,69.42 333.23,70.18 333.56,68.32 333.88,67.37 334.20,66.95 334.52,65.23 334.84,64.20 335.16,63.09 335.48,63.43 335.80,63.81 336.12,62.71 336.45,61.98 336.77,60.08 337.09,58.75 337.41,60.35 337.73,57.74 338.05,57.12 338.37,57.89 338.69,57.04 339.02,57.94 339.34,56.02 339.66,58.22 339.98,55.38 340.30,56.45 340.62,57.87 340.94,60.17 341.26,59.53 341.58,61.01 341.91,65.42 342.23,65.27 342.55,66.99 342.87,69.49 343.19,71.22 343.51,73.81 343.83,73.92 344.15,75.27 344.48,78.49 344.80,78.54 345.12,80.47 345.44,81.74 345.76,82.16 346.08,82.92 346.40,82.78 346.72,83.25 347.04,83.98 347.37,84.08 347.69,84.36 348.01,84.59 348.33,84.71 348.65,84.84 348.97,84.93 349.29,85.06 349.61,85.15 349.94,85.24 350.26,85.33 350.58,85.41 350.90,85.49 351.22,85.57 351.54,85.65 351.86,85.72 352.18,85.80 352.50,85.88 352.83,85.96 353.15,86.03 353.47,86.11 353.79,86.19 354.11,86.26 354.43,86.34 354.75,86.42 355.07,86.49 355.40,86.57 355.72,86.65 356.04,86.73 356.36,86.80 356.68,86.88 357.00,86.96 357.32,87.03 357.64,87.11 357.96,87.19 358.29,87.27 358.61,87.34 358.93,87.42 359.25,87.50 359.57,87.57 359.89,87.65 360.21,87.73 360.53,87.80 360.86,87.88 361.18,87.96 361.50,88.04 361.82,88.11 362.14,88.19 362.46,88.27 362.78,88.34 363.10,88.42 363.42,88.50 363.75,88.58 364.07,88.65 364.39,88.73 364.71,88.81 365.03,88.88 365.35,88.96 365.67,89.04 365.99,89.11 366.32,89.19 366.64,89.27 366.96,89.35 367.28,89.42 367.60,89.50 367.60,89.50 313.00,76.40" fill="#fff" stroke="none"/>
<polyline points="313.00,76.27 313.32,76.32 313.64,76.37 313.96,76.41 314.28,76.42 314.61,76.36 314.93,75.94 315.25,74.46 315.57,70.60 315.89,63.11 316.21,52.62 316.53,43.05 316.85,39.62 317.18,39.90 317.50,40.67 317.82,41.90 318.14,43.53 318.46,45.51 318.78,47.76 319.10,50.19 319.42,52.74 319.74,56.08 320.07,59.36 320.39,59.80 320.71,62.82 321.03,64.42 321.35,67.94 321.67,68.67 321.99,70.82 322.31,72.11 322.64,72.73 322.96,71.78 323.28,73.84 323.60,74.39 323.92,74.36 324.24,75.59 324.56,76.33 324.88,75.50 325.20,75.75 325.53,75.63 325.85,76.15 326.17,75.79 326.49,75.78 326.81,76.73 327.13,76.29 327.45,76.32 327.77,76.80 328.10,76.39 328.42,76.01 328.74,75.13 329.06,74.92 329.38,76.26 329.70,75.10 330.02,76.49 330.34,76.20 330.66,74.50 330.99,72.92 331.31,74.75 331.63,72.29 331.95,71.34 332.27,72.54 332.59,70.65 332.91,69.42 333.23,70.18 333.56,68.32 333.88,67.37 334.20,66.95 334.52,65.23 334.84,64.20 335.16,63.09 335.48,63.43 335.80,63.81 336.12,62.71 336.45,61.98 336.77,60.08 337.09,58.75 337.41,60.35 337.73,57.74 338.05,57.12 338.37,57.89 338.69,57.04 339.02,57.94 339.34,56.02 339.66,58.22 339.98,55.38 340.30,56.45 340.62,57.87 340.94,60.17 341.26,59.53 341.58,61.01 341.91,65.42 342.23,65.27 342.55,66.99 342.87,69.49 343.19,71.22 343.51,73.81 343.83,73.92 344.15,75.27 344.48,78.49 344.80,78.54 345.12,80.47 345.44,81.74 345.76,82.16 346.08,82.92 346.40,82.78 346.72,83.25 347.04,83.98 347.37,84.08 347.69,84.36 348.01,84.59 348.33,84.71 348.65,84.84 348.97,84.93 349.29,85.06 349.61,85.15 349.94,85.24 350.26,85.33 350.58,85.41 350.90,85.49 351.22,85.57 351.54,85.65 351.86,85.72 352.18,85.80 352.50,85.88 352.83,85.96 353.15,86.03 353.47,86.11 353.79,86.19 354.11,86.26 354.43,86.34 354.75,86.42 355.07,86.49 355.40,86.57 355.72,86.65 356.04,86.73 356.36,86.80 356.68,86.88 357.00,86.96 357.32,87.03 357.64,87.11 357.96,87.19 358.29,87.27 358.61,87.34 358.93,87.42 359.25,87.50 359.57,87.57 359.89,87.65 360.21,87.73 360.53,87.80 360.86,87.88 361.18,87.96 361.50,88.04 361.82,88.11 362.14,88.19 362.46,88.27 362.78,88.34 363.10,88.42 363.42,88.50 363.75,88.58 364.07,88.65 364.39,88.73 364.71,88.81 365.03,88.88 365.35,88.96 365.67,89.04 365.99,89.11 366.32,89.19 366.64,89.27 366.96,89.35 367.28,89.42 367.60,89.50" fill="none" stroke="#444" stroke-width="0.6" stroke-linejoin="round" />
<line x1="313.00" y1="76.40" x2="367.60" y2="89.50" stroke="#444" stroke-width="0.5" />
<polygon points="303.80,81.47 304.14,81.53 304.49,81.58 304.83,81.62 305.18,81.65 305.52,81.59 305.87,81.18 306.21,79.71 306.56,75.87 306.90,68.40 307.25,57.95 307.59,48.41 307.94,44.99 308.28,45.28 308.63,46.06 308.97,47.29 309.32,48.93 309.66,50.91 310.00,53.16 310.35,55.59 310.69,58.13 311.04,61.87 311.38,63.24 311.73,65.44 312.07,68.56 312.42,70.04 312.76,72.41 313.11,73.53 313.45,76.69 313.80,76.53 314.14,77.57 314.49,78.91 314.83,79.32 315.18,78.94 315.52,79.74 315.86,80.59 316.21,80.63 316.55,81.44 316.90,81.98 317.24,82.51 317.59,82.23 317.93,81.88 318.28,81.61 318.62,81.85 318.97,82.49 319.31,81.94 319.66,82.84 320.00,82.45 320.35,83.16 320.69,82.82 321.04,82.61 321.38,83.62 321.72,83.89 322.07,83.36 322.41,83.54 322.76,83.82 323.10,84.35 323.45,83.82 323.79,83.76 324.14,83.77 324.48,82.99 324.83,83.36 325.17,83.00 325.52,82.56 325.86,82.70 326.21,83.07 326.55,82.35 326.90,82.40 327.24,82.18 327.58,82.03 327.93,82.44 328.27,81.60 328.62,81.38 328.96,80.20 329.31,80.51 329.65,80.13 330.00,80.22 330.34,79.92 330.69,80.47 331.03,81.18 331.38,81.37 331.72,79.90 332.07,79.35 332.41,80.41 332.76,81.71 333.10,79.60 333.44,80.86 333.79,81.17 334.13,82.87 334.48,81.82 334.82,81.59 335.17,83.20 335.51,84.02 335.86,83.79 336.20,86.05 336.55,85.51 336.89,85.33 337.24,86.45 337.58,87.43 337.93,87.60 338.27,88.17 338.62,88.89 338.96,89.21 339.30,89.18 339.65,89.71 339.99,89.98 340.34,90.01 340.68,90.25 341.03,90.43 341.37,90.56 341.72,90.67 342.06,90.81 342.41,90.90 342.75,91.00 343.10,91.09 343.44,91.19 343.79,91.28 344.13,91.37 344.48,91.45 344.82,91.54 345.16,91.62 345.51,91.71 345.85,91.79 346.20,91.87 346.54,91.96 346.89,92.04 347.23,92.12 347.58,92.21 347.92,92.29 348.27,92.38 348.61,92.46 348.96,92.54 349.30,92.63 349.65,92.71 349.99,92.79 350.34,92.88 350.68,92.96 351.02,93.04 351.37,93.13 351.71,93.21 352.06,93.29 352.40,93.38 352.75,93.46 353.09,93.54 353.44,93.63 353.78,93.71 354.13,93.80 354.47,93.88 354.82,93.96 355.16,94.05 355.51,94.13 355.85,94.21 356.20,94.30 356.54,94.38 356.88,94.46 357.23,94.55 357.57,94.63 357.92,94.71 358.26,94.80 358.61,94.88 358.95,94.96 359.30,95.05 359.64,95.13 359.99,95.22 360.33,95.30 360.68,95.38 361.02,95.47 361.37,95.55 361.71,95.63 362.06,95.72 362.40,95.80 362.40,95.80 303.80,81.60" fill="#fff" stroke="none"/>
<polyline points="303.80,81.47 304.14,81.53 304.49,81.58 304.83,81.62 305.18,81.65 305.52,81.59 305.87,81.18 306.21,79.71 306.56,75.87 306.90,68.40 307.25,57.95 307.59,48.41 307.94,44.99 308.28,45.28 308.63,46.06 308.97,47.29 309.32,48.93 309.66,50.91 310.00,53.16 310.35,55.59 310.69,58.13 311.04,61.87 311.38,63.24 311.73,65.44 312.07,68.56 312.42,70.04 312.76,72.41 313.11,73.53 313.45,76.69 313.80,76.53 314.14,77.57 314.49,78.91 314.83,79.32 315.18,78.94 315.52,79.74 315.86,80.59 316.21,80.63 316.55,81.44 316.90,81.98 317.24,82.51 317.59,82.23 317.93,81.88 318.28,81.61 318.62,81.85 318.97,82.49 319.31,81.94 319.66,82.84 320.00,82.45 320.35,83.16 320.69,82.82 321.04,82.61 321.38,83.62 321.72,83.89 322.07,83.36 322.41,83.54 322.76,83.82 323.10,84.35 323.45,83.82 323.79,83.76 324.14,83.77 324.48,82.99 324.83,83.36 325.17,83.00 325.52,82.56 325.86,82.70 326.21,83.07 326.55,82.35 326.90,82.40 327.24,82.18 327.58,82.03 327.93,82.44 328.27,81.60 328.62,81.38 328.96,80.20 329.31,80.51 329.65,80.13 330.00,80.22 330.34,79.92 330.69,80.47 331.03,81.18 331.38,81.37 331.72,79.90 332.07,79.35 332.41,80.41 332.76,81.71 333.10,79.60 333.44,80.86 333.79,81.17 334.13,82.87 334.48,81.82 334.82,81.59 335.17,83.20 335.51,84.02 335.86,83.79 336.20,86.05 336.55,85.51 336.89,85.33 337.24,86.45 337.58,87.43 337.93,87.60 338.27,88.17 338.62,88.89 338.96,89.21 339.30,89.18 339.65,89.71 339.99,89.98 340.34,90.01 340.68,90.25 341.03,90.43 341.37,90.56 341.72,90.67 342.06,90.81 342.41,90.90 342.75,91.00 343.10,91.09 343.44,91.19 343.79,91.28 344.13,91.37 344.48,91.45 344.82,91.54 345.16,91.62 345.51,91.71 345.85,91.79 346.20,91.87 346.54,91.96 346.89,92.04 347.23,92.12 347.58,92.21 347.92,92.29 348.27,92.38 348.61,92.46 348.96,92.54 349.30,92.63 349.65,92.71 349.99,92.79 350.34,92.88 350.68,92.96 351.02,93.04 351.37,93.13 351.71,93.21 352.06,93.29 352.40,93.38 352.75,93.46 353.09,93.54 353.44,93.63 353.78,93.71 354.13,93.80 354.47,93.88 354.82,93.96 355.16,94.05 355.51,94.13 355.85,94.21 356.20,94.30 356.54,94.38 356.88,94.46 357.23,94.55 357.57,94.63 357.92,94.71 358.26,94.80 358.61,94.88 358.95,94.96 359.30,95.05 359.64,95.13 359.99,95.22 360.33,95.30 360.68,95.38 361.02,95.47 361.37,95.55 361.71,95.63 362.06,95.72 362.40,95.80" fill="none" stroke="#555" stroke-width="0.6" stroke-linejoin="round" />
<line x1="303.80" y1="81.60" x2="362.40" y2="95.80" stroke="#555" stroke-width="0.5" />
<line x1="303.80" y1="81.60" x2="362.40" y2="95.80" stroke="#555" stroke-width="0.6" />
<line x1="362.40" y1="95.80" x2="383.20" y2="70.60" stroke="#555" stroke-width="0.6" />
<line x1="303.80" y1="81.60" x2="296.60" y2="43.60" stroke="#444" stroke-width="0.7" />
<text transform="translate(295.20,64.50) rotate(-84)" font-size="5.4" text-anchor="middle" dy="1.9" textLength="15" lengthAdjust="spacingAndGlyphs">Events</text>
<text transform="translate(299.40,89.40) rotate(12)" font-size="5.4" style="stroke-width:0.2px">10<tspan dx="0.81" dy="-2.27" font-size="4.05">0</tspan></text>
<text transform="translate(312.20,93.20) rotate(12)" font-size="5.4" style="stroke-width:0.2px">10<tspan dx="0.81" dy="-2.27" font-size="4.05">1</tspan></text>
<text transform="translate(327.00,97.30) rotate(12)" font-size="5.4" style="stroke-width:0.2px">10<tspan dx="0.81" dy="-2.27" font-size="4.05">2</tspan></text>
<text transform="translate(341.00,100.60) rotate(12)" font-size="5.4" style="stroke-width:0.2px">10<tspan dx="0.81" dy="-2.27" font-size="4.05">3</tspan></text>
<text transform="translate(357.20,104.70) rotate(12)" font-size="5.4" style="stroke-width:0.2px">10<tspan dx="0.81" dy="-2.27" font-size="4.05">4</tspan></text>
<text transform="translate(304.70,99.30) rotate(15.5)" font-size="5.4" textLength="47.5" lengthAdjust="spacingAndGlyphs">BrdU incorporation</text>
<text transform="translate(367.00,96.60) rotate(40)" font-size="5.6" text-anchor="middle" dy="2.0">0</text>
<text transform="translate(374.90,93.80) rotate(40)" font-size="5.6" text-anchor="middle" dy="2.0">0.05</text>
<text transform="translate(379.20,88.20) rotate(40)" font-size="5.6" text-anchor="middle" dy="2.0">0.15</text>
<text transform="translate(383.80,82.90) rotate(40)" font-size="5.6" text-anchor="middle" dy="2.0">0.45</text>
<text transform="translate(388.80,77.60) rotate(40)" font-size="5.6" text-anchor="middle" dy="2.0">1.35</text>
<text transform="translate(388.50,95.20) rotate(-44)" font-size="6.0" text-anchor="middle" dy="2.1" textLength="28.5" lengthAdjust="spacingAndGlyphs">EPO Conc.</text>
<polygon points="460.70,60.53 460.94,60.54 461.18,60.54 461.42,60.54 461.66,60.51 461.91,60.44 462.15,60.17 462.39,59.32 462.63,57.16 462.87,53.04 463.11,47.28 463.35,42.00 463.59,40.05 463.84,40.09 464.08,40.40 464.32,40.93 464.56,41.68 464.80,42.60 465.04,43.66 465.28,44.80 465.52,45.99 465.76,45.73 466.01,46.91 466.25,50.86 466.49,51.77 466.73,50.25 466.97,51.34 467.21,52.18 467.45,53.85 467.69,53.27 467.94,53.54 468.18,53.78 468.42,55.20 468.66,54.31 468.90,54.34 469.14,53.14 469.38,52.08 469.62,51.98 469.86,53.00 470.11,53.00 470.35,53.23 470.59,53.62 470.83,53.27 471.07,51.47 471.31,51.54 471.55,50.92 471.79,48.85 472.04,49.59 472.28,49.03 472.52,49.61 472.76,49.83 473.00,48.40 473.24,48.53 473.48,46.86 473.72,44.82 473.96,45.39 474.21,46.50 474.45,43.75 474.69,43.60 474.93,43.36 475.17,42.37 475.41,42.40 475.65,41.91 475.89,42.91 476.14,40.54 476.38,40.25 476.62,42.50 476.86,40.31 477.10,40.17 477.34,40.75 477.58,40.33 477.82,40.30 478.06,38.79 478.31,40.06 478.55,38.95 478.79,40.48 479.03,38.82 479.27,38.84 479.51,40.37 479.75,40.21 479.99,39.30 480.24,40.20 480.48,41.28 480.72,42.49 480.96,42.56 481.20,41.81 481.44,44.00 481.68,42.15 481.92,44.76 482.16,43.29 482.41,45.84 482.65,44.41 482.89,45.89 483.13,47.22 483.37,47.88 483.61,48.18 483.85,49.11 484.09,50.73 484.34,51.81 484.58,51.58 484.82,50.97 485.06,52.70 485.30,55.19 485.54,53.53 485.78,54.54 486.02,54.66 486.26,57.64 486.51,56.54 486.75,59.38 486.99,58.12 487.23,59.94 487.47,60.68 487.71,59.17 487.95,62.18 488.19,61.38 488.44,60.91 488.68,63.11 488.92,63.60 489.16,62.44 489.40,63.89 489.64,63.70 489.88,65.30 490.12,65.05 490.36,65.64 490.61,65.24 490.85,66.26 491.09,65.54 491.33,66.75 491.57,66.32 491.81,67.13 492.05,67.13 492.29,66.96 492.54,67.54 492.78,67.68 493.02,67.59 493.26,67.88 493.50,68.14 493.74,67.95 493.98,68.33 494.22,68.47 494.46,68.50 494.71,68.55 494.95,68.64 495.19,68.83 495.43,68.89 495.67,68.95 495.91,69.04 496.15,69.12 496.39,69.20 496.64,69.27 496.88,69.35 497.12,69.42 497.36,69.49 497.60,69.56 497.84,69.62 498.08,69.69 498.32,69.75 498.56,69.82 498.81,69.88 499.05,69.94 499.29,70.00 499.53,70.06 499.77,70.12 500.01,70.18 500.25,70.24 500.49,70.30 500.74,70.36 500.98,70.42 501.22,70.48 501.46,70.54 501.70,70.60 501.70,70.60 460.70,60.80" fill="#fff" stroke="none"/>
<polyline points="460.70,60.53 460.94,60.54 461.18,60.54 461.42,60.54 461.66,60.51 461.91,60.44 462.15,60.17 462.39,59.32 462.63,57.16 462.87,53.04 463.11,47.28 463.35,42.00 463.59,40.05 463.84,40.09 464.08,40.40 464.32,40.93 464.56,41.68 464.80,42.60 465.04,43.66 465.28,44.80 465.52,45.99 465.76,45.73 466.01,46.91 466.25,50.86 466.49,51.77 466.73,50.25 466.97,51.34 467.21,52.18 467.45,53.85 467.69,53.27 467.94,53.54 468.18,53.78 468.42,55.20 468.66,54.31 468.90,54.34 469.14,53.14 469.38,52.08 469.62,51.98 469.86,53.00 470.11,53.00 470.35,53.23 470.59,53.62 470.83,53.27 471.07,51.47 471.31,51.54 471.55,50.92 471.79,48.85 472.04,49.59 472.28,49.03 472.52,49.61 472.76,49.83 473.00,48.40 473.24,48.53 473.48,46.86 473.72,44.82 473.96,45.39 474.21,46.50 474.45,43.75 474.69,43.60 474.93,43.36 475.17,42.37 475.41,42.40 475.65,41.91 475.89,42.91 476.14,40.54 476.38,40.25 476.62,42.50 476.86,40.31 477.10,40.17 477.34,40.75 477.58,40.33 477.82,40.30 478.06,38.79 478.31,40.06 478.55,38.95 478.79,40.48 479.03,38.82 479.27,38.84 479.51,40.37 479.75,40.21 479.99,39.30 480.24,40.20 480.48,41.28 480.72,42.49 480.96,42.56 481.20,41.81 481.44,44.00 481.68,42.15 481.92,44.76 482.16,43.29 482.41,45.84 482.65,44.41 482.89,45.89 483.13,47.22 483.37,47.88 483.61,48.18 483.85,49.11 484.09,50.73 484.34,51.81 484.58,51.58 484.82,50.97 485.06,52.70 485.30,55.19 485.54,53.53 485.78,54.54 486.02,54.66 486.26,57.64 486.51,56.54 486.75,59.38 486.99,58.12 487.23,59.94 487.47,60.68 487.71,59.17 487.95,62.18 488.19,61.38 488.44,60.91 488.68,63.11 488.92,63.60 489.16,62.44 489.40,63.89 489.64,63.70 489.88,65.30 490.12,65.05 490.36,65.64 490.61,65.24 490.85,66.26 491.09,65.54 491.33,66.75 491.57,66.32 491.81,67.13 492.05,67.13 492.29,66.96 492.54,67.54 492.78,67.68 493.02,67.59 493.26,67.88 493.50,68.14 493.74,67.95 493.98,68.33 494.22,68.47 494.46,68.50 494.71,68.55 494.95,68.64 495.19,68.83 495.43,68.89 495.67,68.95 495.91,69.04 496.15,69.12 496.39,69.20 496.64,69.27 496.88,69.35 497.12,69.42 497.36,69.49 497.60,69.56 497.84,69.62 498.08,69.69 498.32,69.75 498.56,69.82 498.81,69.88 499.05,69.94 499.29,70.00 499.53,70.06 499.77,70.12 500.01,70.18 500.25,70.24 500.49,70.30 500.74,70.36 500.98,70.42 501.22,70.48 501.46,70.54 501.70,70.60" fill="none" stroke="#bbb" stroke-width="0.6" stroke-linejoin="round" />
<line x1="460.70" y1="60.80" x2="501.70" y2="70.60" stroke="#bbb" stroke-width="0.5" stroke-dasharray="1,1"/>
<polygon points="451.10,65.57 451.37,65.57 451.63,65.56 451.90,65.53 452.17,65.49 452.44,65.38 452.70,65.04 452.97,64.00 453.24,61.39 453.50,56.42 453.77,49.49 454.04,43.13 454.30,40.76 454.57,40.79 454.84,41.13 455.11,41.75 455.37,42.61 455.64,43.69 455.91,44.92 456.17,46.26 456.44,47.65 456.71,50.55 456.98,50.56 457.24,50.82 457.51,52.05 457.78,52.55 458.04,53.89 458.31,54.25 458.58,55.30 458.84,56.45 459.11,57.50 459.38,56.23 459.65,57.35 459.91,57.95 460.18,56.67 460.45,55.07 460.71,57.16 460.98,55.34 461.25,55.56 461.52,54.74 461.78,55.48 462.05,52.39 462.32,54.14 462.58,52.53 462.85,52.62 463.12,53.39 463.38,51.14 463.65,51.96 463.92,51.70 464.19,51.26 464.45,50.34 464.72,50.04 464.99,47.82 465.25,47.74 465.52,45.75 465.79,45.44 466.06,44.81 466.32,46.83 466.59,45.75 466.86,45.99 467.12,44.55 467.39,44.12 467.66,43.27 467.92,43.30 468.19,44.52 468.46,43.80 468.73,43.32 468.99,44.88 469.26,44.71 469.53,43.49 469.79,44.46 470.06,42.56 470.33,44.21 470.60,44.82 470.86,44.76 471.13,44.86 471.40,45.21 471.66,44.60 471.93,45.19 472.20,46.13 472.46,45.57 472.73,47.48 473.00,45.83 473.27,46.27 473.53,47.66 473.80,49.29 474.07,49.74 474.33,50.25 474.60,52.70 474.87,52.29 475.14,52.73 475.40,54.62 475.67,55.70 475.94,54.24 476.20,56.44 476.47,56.76 476.74,56.27 477.00,58.06 477.27,59.87 477.54,58.42 477.81,61.13 478.07,63.00 478.34,61.59 478.61,64.17 478.87,64.19 479.14,63.14 479.41,64.32 479.68,67.03 479.94,66.23 480.21,66.92 480.48,67.22 480.74,68.54 481.01,67.95 481.28,69.70 481.54,69.58 481.81,69.78 482.08,69.10 482.35,71.01 482.61,70.24 482.88,71.41 483.15,71.20 483.41,71.71 483.68,71.90 483.95,71.88 484.22,72.45 484.48,72.88 484.75,73.06 485.02,73.26 485.28,73.00 485.55,73.30 485.82,73.34 486.08,73.61 486.35,73.99 486.62,73.93 486.89,74.03 487.15,74.18 487.42,74.34 487.69,74.48 487.95,74.57 488.22,74.62 488.49,74.79 488.76,74.85 489.02,74.94 489.29,74.99 489.56,75.09 489.82,75.19 490.09,75.27 490.36,75.35 490.62,75.42 490.89,75.50 491.16,75.57 491.43,75.64 491.69,75.71 491.96,75.78 492.23,75.85 492.49,75.92 492.76,75.98 493.03,76.05 493.30,76.12 493.56,76.18 493.83,76.25 494.10,76.32 494.36,76.38 494.63,76.45 494.90,76.51 495.16,76.58 495.43,76.64 495.70,76.71 495.97,76.77 496.23,76.83 496.50,76.90 496.50,76.90 451.10,66.00" fill="#fff" stroke="none"/>
<polyline points="451.10,65.57 451.37,65.57 451.63,65.56 451.90,65.53 452.17,65.49 452.44,65.38 452.70,65.04 452.97,64.00 453.24,61.39 453.50,56.42 453.77,49.49 454.04,43.13 454.30,40.76 454.57,40.79 454.84,41.13 455.11,41.75 455.37,42.61 455.64,43.69 455.91,44.92 456.17,46.26 456.44,47.65 456.71,50.55 456.98,50.56 457.24,50.82 457.51,52.05 457.78,52.55 458.04,53.89 458.31,54.25 458.58,55.30 458.84,56.45 459.11,57.50 459.38,56.23 459.65,57.35 459.91,57.95 460.18,56.67 460.45,55.07 460.71,57.16 460.98,55.34 461.25,55.56 461.52,54.74 461.78,55.48 462.05,52.39 462.32,54.14 462.58,52.53 462.85,52.62 463.12,53.39 463.38,51.14 463.65,51.96 463.92,51.70 464.19,51.26 464.45,50.34 464.72,50.04 464.99,47.82 465.25,47.74 465.52,45.75 465.79,45.44 466.06,44.81 466.32,46.83 466.59,45.75 466.86,45.99 467.12,44.55 467.39,44.12 467.66,43.27 467.92,43.30 468.19,44.52 468.46,43.80 468.73,43.32 468.99,44.88 469.26,44.71 469.53,43.49 469.79,44.46 470.06,42.56 470.33,44.21 470.60,44.82 470.86,44.76 471.13,44.86 471.40,45.21 471.66,44.60 471.93,45.19 472.20,46.13 472.46,45.57 472.73,47.48 473.00,45.83 473.27,46.27 473.53,47.66 473.80,49.29 474.07,49.74 474.33,50.25 474.60,52.70 474.87,52.29 475.14,52.73 475.40,54.62 475.67,55.70 475.94,54.24 476.20,56.44 476.47,56.76 476.74,56.27 477.00,58.06 477.27,59.87 477.54,58.42 477.81,61.13 478.07,63.00 478.34,61.59 478.61,64.17 478.87,64.19 479.14,63.14 479.41,64.32 479.68,67.03 479.94,66.23 480.21,66.92 480.48,67.22 480.74,68.54 481.01,67.95 481.28,69.70 481.54,69.58 481.81,69.78 482.08,69.10 482.35,71.01 482.61,70.24 482.88,71.41 483.15,71.20 483.41,71.71 483.68,71.90 483.95,71.88 484.22,72.45 484.48,72.88 484.75,73.06 485.02,73.26 485.28,73.00 485.55,73.30 485.82,73.34 486.08,73.61 486.35,73.99 486.62,73.93 486.89,74.03 487.15,74.18 487.42,74.34 487.69,74.48 487.95,74.57 488.22,74.62 488.49,74.79 488.76,74.85 489.02,74.94 489.29,74.99 489.56,75.09 489.82,75.19 490.09,75.27 490.36,75.35 490.62,75.42 490.89,75.50 491.16,75.57 491.43,75.64 491.69,75.71 491.96,75.78 492.23,75.85 492.49,75.92 492.76,75.98 493.03,76.05 493.30,76.12 493.56,76.18 493.83,76.25 494.10,76.32 494.36,76.38 494.63,76.45 494.90,76.51 495.16,76.58 495.43,76.64 495.70,76.71 495.97,76.77 496.23,76.83 496.50,76.90" fill="none" stroke="#333" stroke-width="0.6" stroke-linejoin="round" />
<line x1="451.10" y1="66.00" x2="496.50" y2="76.90" stroke="#333" stroke-width="0.5" />
<polygon points="441.50,71.02 441.79,71.06 442.09,71.09 442.38,71.11 442.67,71.12 442.96,71.05 443.26,70.72 443.55,69.58 443.84,66.63 444.14,60.92 444.43,52.93 444.72,45.63 445.02,42.98 445.31,43.15 445.60,43.69 445.89,44.56 446.19,45.74 446.48,47.17 446.77,48.79 447.07,50.56 447.36,52.39 447.65,52.86 447.94,54.98 448.24,58.43 448.53,60.25 448.82,60.88 449.12,62.91 449.41,63.49 449.70,63.63 450.00,63.64 450.29,65.33 450.58,65.07 450.87,67.73 451.17,67.14 451.46,65.24 451.75,68.03 452.05,67.16 452.34,68.22 452.63,68.05 452.92,65.32 453.22,64.84 453.51,65.71 453.80,67.14 454.10,66.34 454.39,66.27 454.68,64.56 454.98,64.21 455.27,64.64 455.56,64.01 455.85,64.95 456.15,63.17 456.44,61.45 456.73,61.63 457.03,63.29 457.32,61.47 457.61,60.34 457.90,61.30 458.20,58.74 458.49,59.60 458.78,58.28 459.08,58.68 459.37,56.23 459.66,56.35 459.96,56.45 460.25,57.25 460.54,55.74 460.83,56.50 461.13,54.13 461.42,52.68 461.71,54.40 462.01,52.83 462.30,52.44 462.59,52.22 462.88,50.81 463.18,49.67 463.47,50.04 463.76,50.44 464.06,48.57 464.35,50.33 464.64,48.78 464.94,48.87 465.23,48.41 465.52,48.03 465.81,49.99 466.11,48.73 466.40,49.48 466.69,48.74 466.99,47.93 467.28,49.26 467.57,51.56 467.86,50.48 468.16,50.12 468.45,50.06 468.74,51.35 469.04,51.41 469.33,54.62 469.62,52.34 469.92,53.76 470.21,54.92 470.50,54.76 470.79,55.66 471.09,59.02 471.38,57.60 471.67,58.64 471.97,61.36 472.26,60.51 472.55,61.92 472.84,64.09 473.14,63.02 473.43,66.04 473.72,65.39 474.02,66.82 474.31,68.23 474.60,68.05 474.90,69.16 475.19,70.77 475.48,69.07 475.77,72.64 476.07,73.55 476.36,72.66 476.65,72.17 476.95,73.34 477.24,73.67 477.53,74.98 477.82,75.03 478.12,76.29 478.41,76.84 478.70,76.80 479.00,77.96 479.29,78.18 479.58,77.59 479.88,78.63 480.17,78.28 480.46,78.56 480.75,79.17 481.05,79.21 481.34,79.38 481.63,79.57 481.93,80.17 482.22,80.32 482.51,80.39 482.80,80.52 483.10,80.72 483.39,80.93 483.68,80.92 483.98,81.06 484.27,81.19 484.56,81.30 484.86,81.41 485.15,81.51 485.44,81.61 485.73,81.71 486.03,81.80 486.32,81.89 486.61,81.98 486.91,82.06 487.20,82.15 487.49,82.23 487.78,82.31 488.08,82.38 488.37,82.46 488.66,82.54 488.96,82.61 489.25,82.69 489.54,82.76 489.84,82.83 490.13,82.91 490.42,82.98 490.71,83.05 491.01,83.12 491.30,83.20 491.30,83.20 441.50,71.20" fill="#fff" stroke="none"/>
<polyline points="441.50,71.02 441.79,71.06 442.09,71.09 442.38,71.11 442.67,71.12 442.96,71.05 443.26,70.72 443.55,69.58 443.84,66.63 444.14,60.92 444.43,52.93 444.72,45.63 445.02,42.98 445.31,43.15 445.60,43.69 445.89,44.56 446.19,45.74 446.48,47.17 446.77,48.79 447.07,50.56 447.36,52.39 447.65,52.86 447.94,54.98 448.24,58.43 448.53,60.25 448.82,60.88 449.12,62.91 449.41,63.49 449.70,63.63 450.00,63.64 450.29,65.33 450.58,65.07 450.87,67.73 451.17,67.14 451.46,65.24 451.75,68.03 452.05,67.16 452.34,68.22 452.63,68.05 452.92,65.32 453.22,64.84 453.51,65.71 453.80,67.14 454.10,66.34 454.39,66.27 454.68,64.56 454.98,64.21 455.27,64.64 455.56,64.01 455.85,64.95 456.15,63.17 456.44,61.45 456.73,61.63 457.03,63.29 457.32,61.47 457.61,60.34 457.90,61.30 458.20,58.74 458.49,59.60 458.78,58.28 459.08,58.68 459.37,56.23 459.66,56.35 459.96,56.45 460.25,57.25 460.54,55.74 460.83,56.50 461.13,54.13 461.42,52.68 461.71,54.40 462.01,52.83 462.30,52.44 462.59,52.22 462.88,50.81 463.18,49.67 463.47,50.04 463.76,50.44 464.06,48.57 464.35,50.33 464.64,48.78 464.94,48.87 465.23,48.41 465.52,48.03 465.81,49.99 466.11,48.73 466.40,49.48 466.69,48.74 466.99,47.93 467.28,49.26 467.57,51.56 467.86,50.48 468.16,50.12 468.45,50.06 468.74,51.35 469.04,51.41 469.33,54.62 469.62,52.34 469.92,53.76 470.21,54.92 470.50,54.76 470.79,55.66 471.09,59.02 471.38,57.60 471.67,58.64 471.97,61.36 472.26,60.51 472.55,61.92 472.84,64.09 473.14,63.02 473.43,66.04 473.72,65.39 474.02,66.82 474.31,68.23 474.60,68.05 474.90,69.16 475.19,70.77 475.48,69.07 475.77,72.64 476.07,73.55 476.36,72.66 476.65,72.17 476.95,73.34 477.24,73.67 477.53,74.98 477.82,75.03 478.12,76.29 478.41,76.84 478.70,76.80 479.00,77.96 479.29,78.18 479.58,77.59 479.88,78.63 480.17,78.28 480.46,78.56 480.75,79.17 481.05,79.21 481.34,79.38 481.63,79.57 481.93,80.17 482.22,80.32 482.51,80.39 482.80,80.52 483.10,80.72 483.39,80.93 483.68,80.92 483.98,81.06 484.27,81.19 484.56,81.30 484.86,81.41 485.15,81.51 485.44,81.61 485.73,81.71 486.03,81.80 486.32,81.89 486.61,81.98 486.91,82.06 487.20,82.15 487.49,82.23 487.78,82.31 488.08,82.38 488.37,82.46 488.66,82.54 488.96,82.61 489.25,82.69 489.54,82.76 489.84,82.83 490.13,82.91 490.42,82.98 490.71,83.05 491.01,83.12 491.30,83.20" fill="none" stroke="#333" stroke-width="0.6" stroke-linejoin="round" />
<line x1="441.50" y1="71.20" x2="491.30" y2="83.20" stroke="#333" stroke-width="0.5" />
<polygon points="431.90,76.18 432.22,76.21 432.54,76.24 432.86,76.26 433.18,76.26 433.49,76.18 433.81,75.76 434.13,74.33 434.45,70.63 434.77,63.49 435.09,53.51 435.41,44.38 435.73,41.07 436.04,41.28 436.36,41.95 436.68,43.05 437.00,44.52 437.32,46.31 437.64,48.35 437.96,50.55 438.28,52.85 438.60,53.68 438.91,57.86 439.23,59.48 439.55,61.98 439.87,63.61 440.19,63.85 440.51,67.04 440.83,67.13 441.15,68.62 441.46,69.20 441.78,68.58 442.10,71.68 442.42,69.58 442.74,71.41 443.06,70.38 443.38,69.88 443.70,70.24 444.02,70.92 444.33,69.29 444.65,71.44 444.97,69.44 445.29,69.92 445.61,69.15 445.93,67.78 446.25,67.59 446.57,67.75 446.88,68.39 447.20,68.22 447.52,67.08 447.84,67.37 448.16,66.78 448.48,64.15 448.80,66.39 449.12,63.66 449.44,64.58 449.75,64.15 450.07,63.81 450.39,64.09 450.71,62.38 451.03,62.83 451.35,61.47 451.67,61.48 451.99,59.09 452.30,58.55 452.62,59.65 452.94,58.61 453.26,57.28 453.58,58.85 453.90,59.23 454.22,58.47 454.54,58.34 454.86,56.52 455.17,57.28 455.49,57.16 455.81,55.62 456.13,57.32 456.45,55.42 456.77,55.96 457.09,56.74 457.41,55.45 457.72,57.12 458.04,55.59 458.36,55.68 458.68,57.34 459.00,57.11 459.32,56.70 459.64,57.83 459.96,58.33 460.28,58.52 460.59,58.93 460.91,60.17 461.23,60.14 461.55,63.07 461.87,62.77 462.19,63.40 462.51,65.18 462.83,65.91 463.14,67.45 463.46,65.79 463.78,68.57 464.10,69.03 464.42,68.54 464.74,71.65 465.06,70.00 465.38,73.49 465.70,74.61 466.01,74.36 466.33,75.10 466.65,74.06 466.97,74.90 467.29,75.98 467.61,77.69 467.93,78.00 468.25,79.60 468.56,78.29 468.88,80.23 469.20,81.01 469.52,80.61 469.84,82.20 470.16,82.25 470.48,81.53 470.80,83.38 471.12,83.62 471.43,83.84 471.75,84.07 472.07,84.17 472.39,84.62 472.71,84.79 473.03,85.10 473.35,85.32 473.67,85.30 473.98,85.66 474.30,85.83 474.62,85.84 474.94,86.28 475.26,86.40 475.58,86.34 475.90,86.60 476.22,86.66 476.54,86.92 476.85,86.97 477.17,87.04 477.49,87.22 477.81,87.28 478.13,87.41 478.45,87.51 478.77,87.61 479.09,87.71 479.40,87.80 479.72,87.89 480.04,87.98 480.36,88.06 480.68,88.15 481.00,88.23 481.32,88.31 481.64,88.40 481.96,88.48 482.27,88.56 482.59,88.64 482.91,88.72 483.23,88.80 483.55,88.88 483.87,88.95 484.19,89.03 484.51,89.11 484.82,89.19 485.14,89.27 485.46,89.34 485.78,89.42 486.10,89.50 486.10,89.50 431.90,76.40" fill="#fff" stroke="none"/>
<polyline points="431.90,76.18 432.22,76.21 432.54,76.24 432.86,76.26 433.18,76.26 433.49,76.18 433.81,75.76 434.13,74.33 434.45,70.63 434.77,63.49 435.09,53.51 435.41,44.38 435.73,41.07 436.04,41.28 436.36,41.95 436.68,43.05 437.00,44.52 437.32,46.31 437.64,48.35 437.96,50.55 438.28,52.85 438.60,53.68 438.91,57.86 439.23,59.48 439.55,61.98 439.87,63.61 440.19,63.85 440.51,67.04 440.83,67.13 441.15,68.62 441.46,69.20 441.78,68.58 442.10,71.68 442.42,69.58 442.74,71.41 443.06,70.38 443.38,69.88 443.70,70.24 444.02,70.92 444.33,69.29 444.65,71.44 444.97,69.44 445.29,69.92 445.61,69.15 445.93,67.78 446.25,67.59 446.57,67.75 446.88,68.39 447.20,68.22 447.52,67.08 447.84,67.37 448.16,66.78 448.48,64.15 448.80,66.39 449.12,63.66 449.44,64.58 449.75,64.15 450.07,63.81 450.39,64.09 450.71,62.38 451.03,62.83 451.35,61.47 451.67,61.48 451.99,59.09 452.30,58.55 452.62,59.65 452.94,58.61 453.26,57.28 453.58,58.85 453.90,59.23 454.22,58.47 454.54,58.34 454.86,56.52 455.17,57.28 455.49,57.16 455.81,55.62 456.13,57.32 456.45,55.42 456.77,55.96 457.09,56.74 457.41,55.45 457.72,57.12 458.04,55.59 458.36,55.68 458.68,57.34 459.00,57.11 459.32,56.70 459.64,57.83 459.96,58.33 460.28,58.52 460.59,58.93 460.91,60.17 461.23,60.14 461.55,63.07 461.87,62.77 462.19,63.40 462.51,65.18 462.83,65.91 463.14,67.45 463.46,65.79 463.78,68.57 464.10,69.03 464.42,68.54 464.74,71.65 465.06,70.00 465.38,73.49 465.70,74.61 466.01,74.36 466.33,75.10 466.65,74.06 466.97,74.90 467.29,75.98 467.61,77.69 467.93,78.00 468.25,79.60 468.56,78.29 468.88,80.23 469.20,81.01 469.52,80.61 469.84,82.20 470.16,82.25 470.48,81.53 470.80,83.38 471.12,83.62 471.43,83.84 471.75,84.07 472.07,84.17 472.39,84.62 472.71,84.79 473.03,85.10 473.35,85.32 473.67,85.30 473.98,85.66 474.30,85.83 474.62,85.84 474.94,86.28 475.26,86.40 475.58,86.34 475.90,86.60 476.22,86.66 476.54,86.92 476.85,86.97 477.17,87.04 477.49,87.22 477.81,87.28 478.13,87.41 478.45,87.51 478.77,87.61 479.09,87.71 479.40,87.80 479.72,87.89 480.04,87.98 480.36,88.06 480.68,88.15 481.00,88.23 481.32,88.31 481.64,88.40 481.96,88.48 482.27,88.56 482.59,88.64 482.91,88.72 483.23,88.80 483.55,88.88 483.87,88.95 484.19,89.03 484.51,89.11 484.82,89.19 485.14,89.27 485.46,89.34 485.78,89.42 486.10,89.50" fill="none" stroke="#444" stroke-width="0.6" stroke-linejoin="round" />
<line x1="431.90" y1="76.40" x2="486.10" y2="89.50" stroke="#444" stroke-width="0.5" />
<polygon points="422.30,81.40 422.64,81.45 422.99,81.49 423.33,81.52 423.68,81.53 424.02,81.46 424.37,81.04 424.71,79.59 425.06,75.81 425.40,68.48 425.75,58.23 426.09,48.87 426.44,45.49 426.78,45.73 427.13,46.45 427.47,47.61 427.82,49.17 428.16,51.05 428.50,53.19 428.85,55.51 429.19,57.93 429.54,60.01 429.88,63.10 430.23,63.46 430.57,67.54 430.92,69.23 431.26,70.51 431.61,73.00 431.95,72.64 432.30,74.51 432.64,75.44 432.99,76.32 433.33,75.47 433.68,75.89 434.02,76.69 434.36,78.15 434.71,78.44 435.05,78.17 435.40,79.74 435.74,79.55 436.09,76.68 436.43,79.41 436.78,76.76 437.12,77.51 437.47,76.67 437.81,79.26 438.16,78.43 438.50,76.76 438.85,79.18 439.19,78.76 439.54,77.87 439.88,78.33 440.22,78.30 440.57,76.51 440.91,78.24 441.26,75.31 441.60,76.22 441.95,78.02 442.29,75.19 442.64,77.18 442.98,76.30 443.33,75.95 443.67,77.20 444.02,75.94 444.36,77.27 444.71,76.74 445.05,74.38 445.40,74.63 445.74,75.54 446.08,75.00 446.43,74.37 446.77,76.72 447.12,75.61 447.46,76.79 447.81,76.89 448.15,76.98 448.50,76.73 448.84,77.34 449.19,76.95 449.53,76.59 449.88,75.99 450.22,75.44 450.57,75.53 450.91,76.38 451.26,77.34 451.60,76.33 451.94,79.07 452.29,79.60 452.63,77.68 452.98,78.67 453.32,80.39 453.67,80.26 454.01,80.93 454.36,80.93 454.70,81.37 455.05,81.90 455.39,81.06 455.74,81.46 456.08,82.70 456.43,83.42 456.77,84.46 457.12,83.38 457.46,83.20 457.80,85.79 458.15,84.93 458.49,85.37 458.84,85.88 459.18,87.60 459.53,86.88 459.87,87.87 460.22,88.18 460.56,87.88 460.91,88.11 461.25,88.46 461.60,88.62 461.94,88.97 462.29,89.47 462.63,90.10 462.98,89.72 463.32,89.93 463.66,90.17 464.01,90.54 464.35,91.04 464.70,91.13 465.04,91.33 465.39,91.28 465.73,91.48 466.08,91.74 466.42,91.68 466.77,91.83 467.11,91.99 467.46,92.21 467.80,92.36 468.15,92.49 468.49,92.53 468.84,92.66 469.18,92.81 469.52,92.86 469.87,92.99 470.21,93.11 470.56,93.20 470.90,93.29 471.25,93.39 471.59,93.48 471.94,93.59 472.28,93.67 472.63,93.76 472.97,93.85 473.32,93.94 473.66,94.02 474.01,94.11 474.35,94.20 474.70,94.28 475.04,94.37 475.38,94.45 475.73,94.54 476.07,94.62 476.42,94.71 476.76,94.79 477.11,94.88 477.45,94.96 477.80,95.05 478.14,95.13 478.49,95.21 478.83,95.30 479.18,95.38 479.52,95.47 479.87,95.55 480.21,95.63 480.56,95.72 480.90,95.80 480.90,95.80 422.30,81.60" fill="#fff" stroke="none"/>
<polyline points="422.30,81.40 422.64,81.45 422.99,81.49 423.33,81.52 423.68,81.53 424.02,81.46 424.37,81.04 424.71,79.59 425.06,75.81 425.40,68.48 425.75,58.23 426.09,48.87 426.44,45.49 426.78,45.73 427.13,46.45 427.47,47.61 427.82,49.17 428.16,51.05 428.50,53.19 428.85,55.51 429.19,57.93 429.54,60.01 429.88,63.10 430.23,63.46 430.57,67.54 430.92,69.23 431.26,70.51 431.61,73.00 431.95,72.64 432.30,74.51 432.64,75.44 432.99,76.32 433.33,75.47 433.68,75.89 434.02,76.69 434.36,78.15 434.71,78.44 435.05,78.17 435.40,79.74 435.74,79.55 436.09,76.68 436.43,79.41 436.78,76.76 437.12,77.51 437.47,76.67 437.81,79.26 438.16,78.43 438.50,76.76 438.85,79.18 439.19,78.76 439.54,77.87 439.88,78.33 440.22,78.30 440.57,76.51 440.91,78.24 441.26,75.31 441.60,76.22 441.95,78.02 442.29,75.19 442.64,77.18 442.98,76.30 443.33,75.95 443.67,77.20 444.02,75.94 444.36,77.27 444.71,76.74 445.05,74.38 445.40,74.63 445.74,75.54 446.08,75.00 446.43,74.37 446.77,76.72 447.12,75.61 447.46,76.79 447.81,76.89 448.15,76.98 448.50,76.73 448.84,77.34 449.19,76.95 449.53,76.59 449.88,75.99 450.22,75.44 450.57,75.53 450.91,76.38 451.26,77.34 451.60,76.33 451.94,79.07 452.29,79.60 452.63,77.68 452.98,78.67 453.32,80.39 453.67,80.26 454.01,80.93 454.36,80.93 454.70,81.37 455.05,81.90 455.39,81.06 455.74,81.46 456.08,82.70 456.43,83.42 456.77,84.46 457.12,83.38 457.46,83.20 457.80,85.79 458.15,84.93 458.49,85.37 458.84,85.88 459.18,87.60 459.53,86.88 459.87,87.87 460.22,88.18 460.56,87.88 460.91,88.11 461.25,88.46 461.60,88.62 461.94,88.97 462.29,89.47 462.63,90.10 462.98,89.72 463.32,89.93 463.66,90.17 464.01,90.54 464.35,91.04 464.70,91.13 465.04,91.33 465.39,91.28 465.73,91.48 466.08,91.74 466.42,91.68 466.77,91.83 467.11,91.99 467.46,92.21 467.80,92.36 468.15,92.49 468.49,92.53 468.84,92.66 469.18,92.81 469.52,92.86 469.87,92.99 470.21,93.11 470.56,93.20 470.90,93.29 471.25,93.39 471.59,93.48 471.94,93.59 472.28,93.67 472.63,93.76 472.97,93.85 473.32,93.94 473.66,94.02 474.01,94.11 474.35,94.20 474.70,94.28 475.04,94.37 475.38,94.45 475.73,94.54 476.07,94.62 476.42,94.71 476.76,94.79 477.11,94.88 477.45,94.96 477.80,95.05 478.14,95.13 478.49,95.21 478.83,95.30 479.18,95.38 479.52,95.47 479.87,95.55 480.21,95.63 480.56,95.72 480.90,95.80" fill="none" stroke="#555" stroke-width="0.6" stroke-linejoin="round" />
<line x1="422.30" y1="81.60" x2="480.90" y2="95.80" stroke="#555" stroke-width="0.5" />
<line x1="422.30" y1="81.60" x2="480.90" y2="95.80" stroke="#555" stroke-width="0.6" />
<line x1="480.90" y1="95.80" x2="501.70" y2="70.60" stroke="#555" stroke-width="0.6" />
<line x1="422.30" y1="81.60" x2="415.10" y2="43.60" stroke="#444" stroke-width="0.7" />
<text transform="translate(413.80,63.70) rotate(-84)" font-size="5.4" text-anchor="middle" dy="1.9" textLength="15" lengthAdjust="spacingAndGlyphs">Events</text>
<text transform="translate(417.90,89.40) rotate(12)" font-size="5.4" style="stroke-width:0.2px">10<tspan dx="0.81" dy="-2.27" font-size="4.05">0</tspan></text>
<text transform="translate(430.70,93.20) rotate(12)" font-size="5.4" style="stroke-width:0.2px">10<tspan dx="0.81" dy="-2.27" font-size="4.05">1</tspan></text>
<text transform="translate(445.50,97.30) rotate(12)" font-size="5.4" style="stroke-width:0.2px">10<tspan dx="0.81" dy="-2.27" font-size="4.05">2</tspan></text>
<text transform="translate(459.50,100.60) rotate(12)" font-size="5.4" style="stroke-width:0.2px">10<tspan dx="0.81" dy="-2.27" font-size="4.05">3</tspan></text>
<text transform="translate(475.70,104.70) rotate(12)" font-size="5.4" style="stroke-width:0.2px">10<tspan dx="0.81" dy="-2.27" font-size="4.05">4</tspan></text>
<text transform="translate(423.20,99.30) rotate(15.5)" font-size="5.4" textLength="47.5" lengthAdjust="spacingAndGlyphs">BrdU incorporation</text>
<text transform="translate(485.50,96.60) rotate(40)" font-size="5.6" text-anchor="middle" dy="2.0">0</text>
<text transform="translate(493.40,93.80) rotate(40)" font-size="5.6" text-anchor="middle" dy="2.0">0.05</text>
<text transform="translate(497.70,88.20) rotate(40)" font-size="5.6" text-anchor="middle" dy="2.0">0.15</text>
<text transform="translate(502.30,82.90) rotate(40)" font-size="5.6" text-anchor="middle" dy="2.0">0.45</text>
<text transform="translate(507.30,77.60) rotate(40)" font-size="5.6" text-anchor="middle" dy="2.0">1.35</text>
<text transform="translate(507.00,95.20) rotate(-44)" font-size="6.0" text-anchor="middle" dy="2.1" textLength="28.5" lengthAdjust="spacingAndGlyphs">EPO Conc.</text>
<line x1="314.70" y1="125.00" x2="314.70" y2="177.00" stroke="#333" stroke-width="0.6" />
<line x1="314.70" y1="177.00" x2="390.00" y2="177.00" stroke="#333" stroke-width="0.6" />
<polyline points="315.00,177.00 315.75,176.88 316.50,176.75 317.25,176.62 318.00,176.50 318.75,176.12 319.50,175.75 320.25,175.38 321.00,175.00 321.75,173.46 322.50,172.06 323.25,169.21 324.00,167.96 325.00,159.65 326.00,152.06 326.95,145.60 327.90,138.32 328.70,144.10 329.50,149.69 330.25,155.58 331.00,160.37 332.00,162.02 333.00,165.42 333.75,165.12 334.50,166.41 335.25,166.35 336.00,166.80 337.00,168.27 338.00,167.59 339.00,166.10 340.00,165.68 341.00,163.02 342.00,159.71 343.00,159.15 344.00,157.05 344.80,156.50 345.60,155.09 346.40,156.62 347.20,156.77 348.00,157.65 349.00,157.05 350.00,155.72 350.80,156.01 351.60,155.93 352.40,156.10 353.20,156.19 354.10,155.12 355.00,154.14 356.00,149.30 357.00,146.25 358.00,140.27 359.00,134.73 360.00,131.95 361.00,127.97 362.00,126.14 363.00,127.67 364.00,129.29 364.95,127.73 365.90,128.37 367.00,130.33 368.00,135.85 369.00,140.48 370.00,145.33 371.00,152.40 372.00,157.31 373.00,163.11 374.00,166.81 375.00,171.37 375.75,173.45 376.50,175.80 377.25,176.40 378.00,177.00" fill="none" stroke="#777" stroke-width="0.6" stroke-linejoin="round" />
<line x1="313.20" y1="125.00" x2="314.70" y2="125.00" stroke="#333" stroke-width="0.5" />
<line x1="313.20" y1="138.00" x2="314.70" y2="138.00" stroke="#333" stroke-width="0.5" />
<line x1="313.20" y1="151.00" x2="314.70" y2="151.00" stroke="#333" stroke-width="0.5" />
<line x1="313.20" y1="164.00" x2="314.70" y2="164.00" stroke="#333" stroke-width="0.5" />
<line x1="313.20" y1="177.00" x2="314.70" y2="177.00" stroke="#333" stroke-width="0.5" />
<line x1="336.80" y1="128.20" x2="382.30" y2="128.20" stroke="#333" stroke-width="0.7" />
<line x1="336.80" y1="127.00" x2="336.80" y2="129.40" stroke="#333" stroke-width="0.6" />
<line x1="382.30" y1="127.00" x2="382.30" y2="129.40" stroke="#333" stroke-width="0.6" />
<text x="359.60" y="126.54" font-size="5.4" font-weight="bold" text-anchor="middle" >1</text>
<line x1="337.50" y1="153.50" x2="353.70" y2="153.50" stroke="#333" stroke-width="0.7" />
<line x1="337.50" y1="152.30" x2="337.50" y2="154.70" stroke="#333" stroke-width="0.6" />
<line x1="353.70" y1="152.30" x2="353.70" y2="154.70" stroke="#333" stroke-width="0.6" />
<text x="345.60" y="150.54" font-size="5.4" font-weight="bold" text-anchor="middle" >2</text>
<line x1="353.20" y1="144.90" x2="378.50" y2="144.90" stroke="#333" stroke-width="0.7" />
<line x1="353.20" y1="143.70" x2="353.20" y2="146.10" stroke="#333" stroke-width="0.6" />
<line x1="378.50" y1="143.70" x2="378.50" y2="146.10" stroke="#333" stroke-width="0.6" />
<text x="363.90" y="142.54" font-size="5.4" font-weight="bold" text-anchor="middle" >3</text>
<text transform="translate(314.10,184.60) rotate(0)" font-size="5.0" style="stroke-width:0.2px">10<tspan dx="0.75" dy="-2.10" font-size="3.75">0</tspan></text>
<text transform="translate(332.30,184.60) rotate(0)" font-size="5.0" style="stroke-width:0.2px">10<tspan dx="0.75" dy="-2.10" font-size="3.75">1</tspan></text>
<text transform="translate(350.00,184.60) rotate(0)" font-size="5.0" style="stroke-width:0.2px">10<tspan dx="0.75" dy="-2.10" font-size="3.75">2</tspan></text>
<text transform="translate(367.80,184.60) rotate(0)" font-size="5.0" style="stroke-width:0.2px">10<tspan dx="0.75" dy="-2.10" font-size="3.75">3</tspan></text>
<text transform="translate(385.50,184.60) rotate(0)" font-size="5.0" style="stroke-width:0.2px">10<tspan dx="0.75" dy="-2.10" font-size="3.75">4</tspan></text>
<text transform="translate(310.50,125.00) rotate(-90)" font-size="5.0" font-weight="bold" text-anchor="middle" dy="1.8">64</text>
<text x="310.50" y="178.80" font-size="5.0" font-weight="normal" text-anchor="middle" >0</text>
<text transform="translate(310.50,152.00) rotate(-90)" font-size="5.4" text-anchor="middle" dy="1.9" textLength="16" lengthAdjust="spacingAndGlyphs" style="stroke-width:0.4px">Events</text>
<text x="325.40" y="193.83" font-size="6.2" font-weight="normal" textLength="53.10" lengthAdjust="spacingAndGlyphs" fill="#000" >BrdU incorporation</text>
<line x1="432.70" y1="125.00" x2="432.70" y2="177.00" stroke="#333" stroke-width="0.6" />
<line x1="432.70" y1="177.00" x2="509.20" y2="177.00" stroke="#333" stroke-width="0.6" />
<polyline points="433.00,177.00 433.75,176.75 434.50,176.50 435.25,176.25 436.00,176.00 436.80,175.40 437.60,174.14 438.40,174.15 439.20,174.22 440.00,173.21 440.75,171.56 441.50,168.46 442.25,166.96 443.00,164.65 444.00,156.56 445.00,148.10 445.80,142.65 446.60,138.27 447.40,133.69 448.20,140.08 449.00,145.37 450.00,151.02 451.00,158.42 452.00,160.99 453.00,165.16 454.00,165.48 455.00,166.30 455.75,167.27 456.50,166.09 457.25,165.85 458.00,166.68 459.00,163.52 460.00,159.71 461.00,155.65 462.00,150.05 463.00,148.15 463.75,146.76 464.50,147.07 465.25,145.99 466.00,145.65 466.75,144.80 467.50,143.22 468.25,142.56 469.00,141.53 469.75,141.08 470.50,140.54 471.25,140.45 472.00,140.44 473.00,139.95 474.00,141.25 475.00,142.27 476.00,143.73 477.00,145.95 478.00,146.97 479.00,147.74 480.00,148.97 481.00,150.64 482.00,151.08 482.75,152.94 483.50,152.18 484.25,153.77 485.00,154.48 485.85,153.70 486.70,155.15 487.55,154.94 488.40,155.61 489.20,156.06 490.00,157.37 491.00,160.55 492.00,164.64 493.00,166.58 494.00,170.36 495.00,173.50 496.00,175.80 497.00,176.40 498.00,177.00" fill="none" stroke="#777" stroke-width="0.6" stroke-linejoin="round" />
<line x1="431.20" y1="125.00" x2="432.70" y2="125.00" stroke="#333" stroke-width="0.5" />
<line x1="431.20" y1="138.00" x2="432.70" y2="138.00" stroke="#333" stroke-width="0.5" />
<line x1="431.20" y1="151.00" x2="432.70" y2="151.00" stroke="#333" stroke-width="0.5" />
<line x1="431.20" y1="164.00" x2="432.70" y2="164.00" stroke="#333" stroke-width="0.5" />
<line x1="431.20" y1="177.00" x2="432.70" y2="177.00" stroke="#333" stroke-width="0.5" />
<line x1="458.50" y1="127.20" x2="508.70" y2="127.20" stroke="#333" stroke-width="0.7" />
<line x1="458.50" y1="126.00" x2="458.50" y2="128.40" stroke="#333" stroke-width="0.6" />
<line x1="508.70" y1="126.00" x2="508.70" y2="128.40" stroke="#333" stroke-width="0.6" />
<text x="484.60" y="124.74" font-size="5.4" font-weight="bold" text-anchor="middle" >1</text>
<line x1="458.50" y1="137.80" x2="482.80" y2="137.80" stroke="#333" stroke-width="0.7" />
<line x1="458.50" y1="136.60" x2="458.50" y2="139.00" stroke="#333" stroke-width="0.6" />
<line x1="482.80" y1="136.60" x2="482.80" y2="139.00" stroke="#333" stroke-width="0.6" />
<text x="469.40" y="135.34" font-size="5.4" font-weight="bold" text-anchor="middle" >2</text>
<line x1="482.00" y1="143.40" x2="508.70" y2="143.40" stroke="#333" stroke-width="0.7" />
<line x1="482.00" y1="142.20" x2="482.00" y2="144.60" stroke="#333" stroke-width="0.6" />
<line x1="508.70" y1="142.20" x2="508.70" y2="144.60" stroke="#333" stroke-width="0.6" />
<text x="494.70" y="141.74" font-size="5.4" font-weight="bold" text-anchor="middle" >3</text>
<text transform="translate(431.50,184.60) rotate(0)" font-size="5.0" style="stroke-width:0.2px">10<tspan dx="0.75" dy="-2.10" font-size="3.75">0</tspan></text>
<text transform="translate(449.80,184.60) rotate(0)" font-size="5.0" style="stroke-width:0.2px">10<tspan dx="0.75" dy="-2.10" font-size="3.75">1</tspan></text>
<text transform="translate(468.00,184.60) rotate(0)" font-size="5.0" style="stroke-width:0.2px">10<tspan dx="0.75" dy="-2.10" font-size="3.75">2</tspan></text>
<text transform="translate(486.50,184.60) rotate(0)" font-size="5.0" style="stroke-width:0.2px">10<tspan dx="0.75" dy="-2.10" font-size="3.75">3</tspan></text>
<text transform="translate(504.20,184.60) rotate(0)" font-size="5.0" style="stroke-width:0.2px">10<tspan dx="0.75" dy="-2.10" font-size="3.75">4</tspan></text>
<text transform="translate(426.40,125.00) rotate(-90)" font-size="5.0" font-weight="bold" text-anchor="middle" dy="1.8">64</text>
<text x="426.40" y="178.80" font-size="5.0" font-weight="normal" text-anchor="middle" >0</text>
<text transform="translate(426.40,152.00) rotate(-90)" font-size="5.4" text-anchor="middle" dy="1.9" textLength="16" lengthAdjust="spacingAndGlyphs" style="stroke-width:0.4px">Events</text>
<text x="444.00" y="193.83" font-size="6.2" font-weight="normal" textLength="53.30" lengthAdjust="spacingAndGlyphs" fill="#000" >BrdU incorporation</text>
<line x1="319.20" y1="215.00" x2="319.20" y2="274.90" stroke="#000" stroke-width="0.9" />
<line x1="319.20" y1="274.90" x2="384.30" y2="274.90" stroke="#000" stroke-width="0.9" />
<line x1="317.40" y1="274.90" x2="319.20" y2="274.90" stroke="#000" stroke-width="0.8" />
<text x="317.00" y="277.06" font-size="6.0" font-weight="normal" text-anchor="end" >15</text>
<line x1="317.40" y1="259.92" x2="319.20" y2="259.92" stroke="#000" stroke-width="0.8" />
<text x="317.00" y="262.08" font-size="6.0" font-weight="normal" text-anchor="end" >20</text>
<line x1="317.40" y1="244.95" x2="319.20" y2="244.95" stroke="#000" stroke-width="0.8" />
<text x="317.00" y="247.11" font-size="6.0" font-weight="normal" text-anchor="end" >25</text>
<line x1="317.40" y1="229.97" x2="319.20" y2="229.97" stroke="#000" stroke-width="0.8" />
<text x="317.00" y="232.13" font-size="6.0" font-weight="normal" text-anchor="end" >30</text>
<line x1="317.40" y1="215.00" x2="319.20" y2="215.00" stroke="#000" stroke-width="0.8" />
<text x="317.00" y="217.16" font-size="6.0" font-weight="normal" text-anchor="end" >35</text>
<line x1="323.20" y1="274.90" x2="323.20" y2="276.70" stroke="#000" stroke-width="0.8" />
<text x="323.20" y="282.54" font-size="5.4" font-weight="normal" text-anchor="middle" >0</text>
<line x1="338.20" y1="274.90" x2="338.20" y2="276.70" stroke="#000" stroke-width="0.8" />
<text x="333.55" y="282.54" font-size="5.4" font-weight="normal" textLength="9.30" lengthAdjust="spacingAndGlyphs" fill="#000" >0.05</text>
<line x1="353.10" y1="274.90" x2="353.10" y2="276.70" stroke="#000" stroke-width="0.8" />
<text x="348.45" y="282.54" font-size="5.4" font-weight="normal" textLength="9.30" lengthAdjust="spacingAndGlyphs" fill="#000" >0.15</text>
<line x1="368.10" y1="274.90" x2="368.10" y2="276.70" stroke="#000" stroke-width="0.8" />
<text x="363.45" y="282.54" font-size="5.4" font-weight="normal" textLength="9.30" lengthAdjust="spacingAndGlyphs" fill="#000" >0.45</text>
<line x1="383.20" y1="274.90" x2="383.20" y2="276.70" stroke="#000" stroke-width="0.8" />
<text x="378.55" y="282.54" font-size="5.4" font-weight="normal" textLength="9.30" lengthAdjust="spacingAndGlyphs" fill="#000" >1.35</text>
<polyline points="323.20,230.57 338.20,218.89 353.10,216.20 368.10,215.00 383.20,218.59" fill="none" stroke="#000" stroke-width="1.1" stroke-linejoin="round" />
<polyline points="323.20,271.90 338.20,259.03 353.10,251.54 368.10,245.55 383.20,246.15" fill="none" stroke="#000" stroke-width="1.1" stroke-linejoin="round" />
<circle cx="323.20" cy="230.57" r="1.8" fill="#000"/>
<circle cx="338.20" cy="218.89" r="1.8" fill="#000"/>
<circle cx="353.10" cy="216.20" r="1.8" fill="#000"/>
<circle cx="368.10" cy="215.00" r="1.8" fill="#000"/>
<circle cx="383.20" cy="218.59" r="1.8" fill="#000"/>
<circle cx="323.20" cy="271.90" r="1.6" fill="#fff" stroke="#000" stroke-width="0.8"/>
<circle cx="338.20" cy="259.03" r="1.6" fill="#fff" stroke="#000" stroke-width="0.8"/>
<circle cx="353.10" cy="251.54" r="1.6" fill="#fff" stroke="#000" stroke-width="0.8"/>
<circle cx="368.10" cy="245.55" r="1.6" fill="#fff" stroke="#000" stroke-width="0.8"/>
<circle cx="383.20" cy="246.15" r="1.6" fill="#fff" stroke="#000" stroke-width="0.8"/>
<text x="351.30" y="211.32" font-size="5.6" font-weight="bold" text-anchor="middle" >2</text>
<text transform="translate(303.0,245.2) rotate(-90)" font-size="5.6" text-anchor="middle" dy="2" textLength="29.5" lengthAdjust="spacingAndGlyphs">BrdU low, %</text>
<line x1="345.30" y1="223.20" x2="352.50" y2="227.00" stroke="#777" stroke-width="0.6" />
<text x="346.25" y="235.72" font-size="5.6" font-weight="normal" textLength="41.35" lengthAdjust="spacingAndGlyphs" fill="#000" >UT7epo-cyclin G2</text>
<line x1="356.90" y1="254.80" x2="364.90" y2="259.60" stroke="#777" stroke-width="0.6" />
<text x="357.70" y="268.12" font-size="5.6" font-weight="normal" textLength="28.80" lengthAdjust="spacingAndGlyphs" fill="#000" >UT7epo-vec</text>
<text x="330.40" y="292.52" font-size="5.6" font-weight="normal" textLength="46.10" lengthAdjust="spacingAndGlyphs" fill="#000" >EPO dosing, U/mL</text>
<line x1="433.90" y1="215.00" x2="433.90" y2="274.50" stroke="#000" stroke-width="0.9" />
<line x1="433.90" y1="274.50" x2="500.30" y2="274.50" stroke="#000" stroke-width="0.9" />
<line x1="432.10" y1="274.50" x2="433.90" y2="274.50" stroke="#000" stroke-width="0.8" />
<text x="431.70" y="276.66" font-size="6.0" font-weight="normal" text-anchor="end" >35</text>
<line x1="432.10" y1="259.62" x2="433.90" y2="259.62" stroke="#000" stroke-width="0.8" />
<text x="431.70" y="261.79" font-size="6.0" font-weight="normal" text-anchor="end" >40</text>
<line x1="432.10" y1="244.75" x2="433.90" y2="244.75" stroke="#000" stroke-width="0.8" />
<text x="431.70" y="246.91" font-size="6.0" font-weight="normal" text-anchor="end" >45</text>
<line x1="432.10" y1="229.88" x2="433.90" y2="229.88" stroke="#000" stroke-width="0.8" />
<text x="431.70" y="232.03" font-size="6.0" font-weight="normal" text-anchor="end" >50</text>
<line x1="432.10" y1="215.00" x2="433.90" y2="215.00" stroke="#000" stroke-width="0.8" />
<text x="431.70" y="217.16" font-size="6.0" font-weight="normal" text-anchor="end" >55</text>
<line x1="438.60" y1="274.50" x2="438.60" y2="276.30" stroke="#000" stroke-width="0.8" />
<text x="438.60" y="282.54" font-size="5.4" font-weight="normal" text-anchor="middle" >0</text>
<line x1="453.60" y1="274.50" x2="453.60" y2="276.30" stroke="#000" stroke-width="0.8" />
<text x="448.95" y="282.54" font-size="5.4" font-weight="normal" textLength="9.30" lengthAdjust="spacingAndGlyphs" fill="#000" >0.05</text>
<line x1="468.60" y1="274.50" x2="468.60" y2="276.30" stroke="#000" stroke-width="0.8" />
<text x="463.95" y="282.54" font-size="5.4" font-weight="normal" textLength="9.30" lengthAdjust="spacingAndGlyphs" fill="#000" >0.15</text>
<line x1="483.80" y1="274.50" x2="483.80" y2="276.30" stroke="#000" stroke-width="0.8" />
<text x="479.15" y="282.54" font-size="5.4" font-weight="normal" textLength="9.30" lengthAdjust="spacingAndGlyphs" fill="#000" >0.45</text>
<line x1="499.00" y1="274.50" x2="499.00" y2="276.30" stroke="#000" stroke-width="0.8" />
<text x="494.35" y="282.54" font-size="5.4" font-weight="normal" textLength="9.30" lengthAdjust="spacingAndGlyphs" fill="#000" >1.35</text>
<polyline points="438.60,261.11 453.60,259.03 468.60,253.08 483.80,253.68 499.00,248.91" fill="none" stroke="#000" stroke-width="1.1" stroke-linejoin="round" />
<polyline points="438.60,228.09 453.60,226.01 468.60,219.76 483.80,222.14 499.00,219.76" fill="none" stroke="#000" stroke-width="1.1" stroke-linejoin="round" />
<circle cx="438.60" cy="261.11" r="1.8" fill="#000"/>
<circle cx="453.60" cy="259.03" r="1.8" fill="#000"/>
<circle cx="468.60" cy="253.08" r="1.8" fill="#000"/>
<circle cx="483.80" cy="253.68" r="1.8" fill="#000"/>
<circle cx="499.00" cy="248.91" r="1.8" fill="#000"/>
<circle cx="438.60" cy="228.09" r="1.6" fill="#fff" stroke="#000" stroke-width="0.8"/>
<circle cx="453.60" cy="226.01" r="1.6" fill="#fff" stroke="#000" stroke-width="0.8"/>
<circle cx="468.60" cy="219.76" r="1.6" fill="#fff" stroke="#000" stroke-width="0.8"/>
<circle cx="483.80" cy="222.14" r="1.6" fill="#fff" stroke="#000" stroke-width="0.8"/>
<circle cx="499.00" cy="219.76" r="1.6" fill="#fff" stroke="#000" stroke-width="0.8"/>
<text x="467.00" y="210.62" font-size="5.6" font-weight="bold" text-anchor="middle" >3</text>
<text transform="translate(419.4,245.2) rotate(-90)" font-size="5.6" text-anchor="middle" dy="2" textLength="31" lengthAdjust="spacingAndGlyphs">BrdU high, %</text>
<line x1="464.70" y1="225.50" x2="472.70" y2="230.30" stroke="#777" stroke-width="0.6" />
<text x="475.00" y="234.22" font-size="5.6" font-weight="normal" textLength="27.70" lengthAdjust="spacingAndGlyphs" fill="#000" >UT7epo-vec</text>
<line x1="470.30" y1="255.60" x2="477.40" y2="259.60" stroke="#777" stroke-width="0.6" />
<text x="466.30" y="266.22" font-size="5.6" font-weight="normal" textLength="41.20" lengthAdjust="spacingAndGlyphs" fill="#000" >UT7epo-cyclin G2</text>
<text x="446.20" y="292.52" font-size="5.6" font-weight="normal" textLength="46.10" lengthAdjust="spacingAndGlyphs" fill="#000" >EPO dosing, U/mL</text>
</svg>
</body></html>
